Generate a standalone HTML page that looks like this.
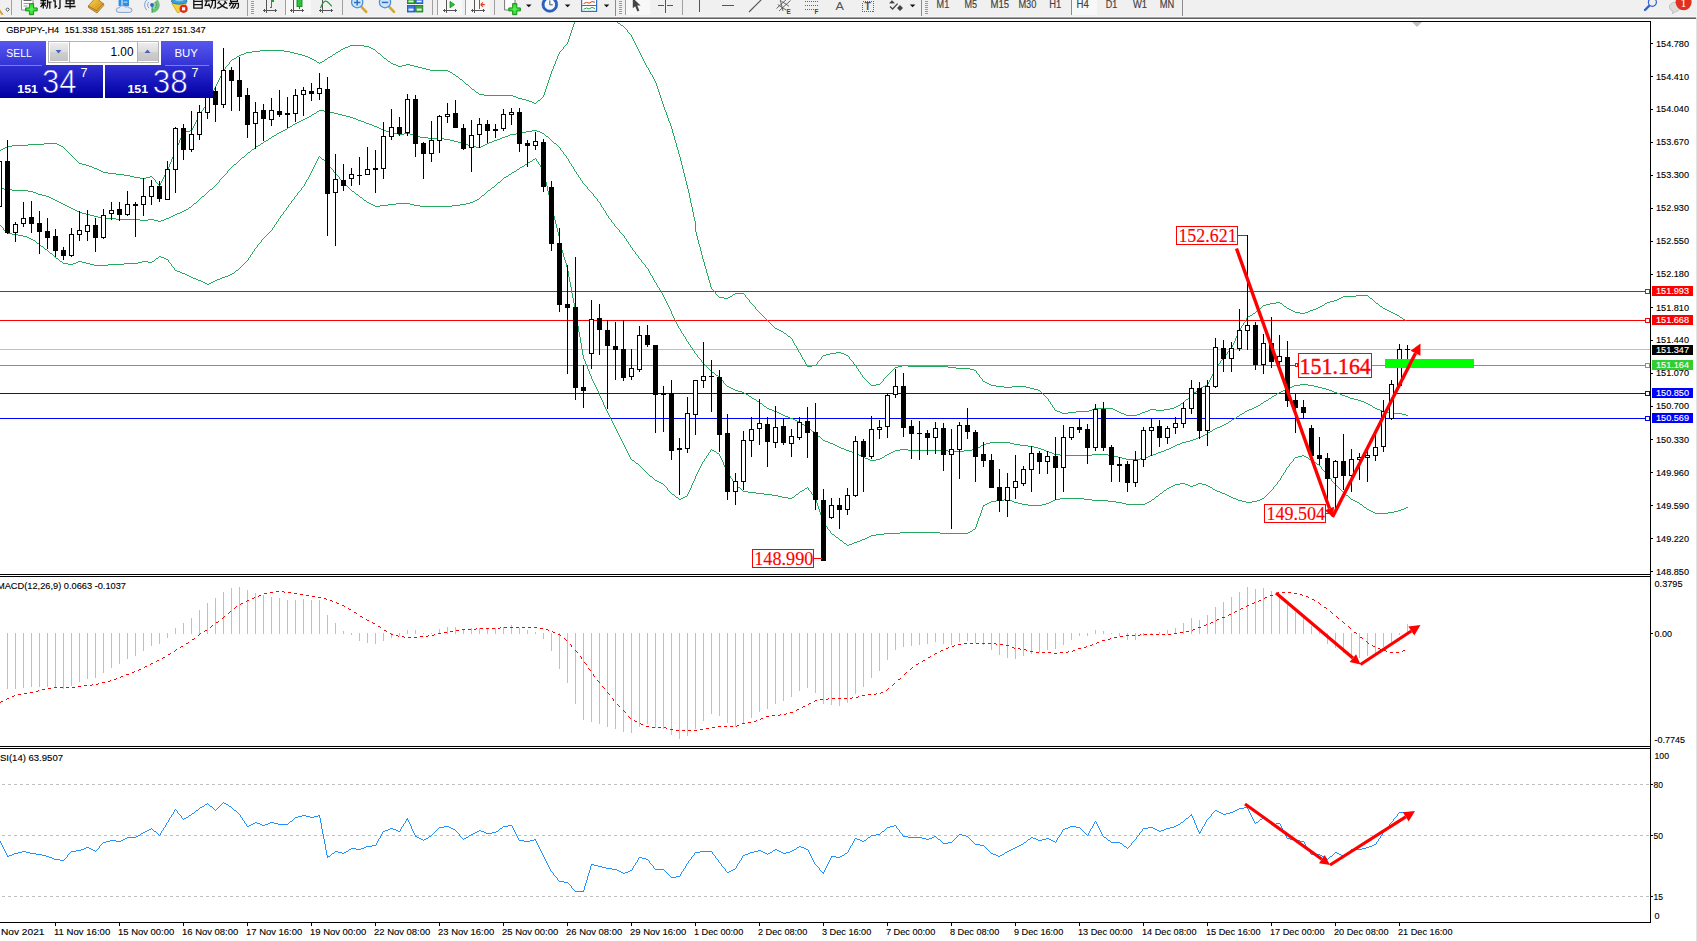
<!DOCTYPE html>
<html><head><meta charset="utf-8"><title>GBPJPY H4</title>
<style>
html,body{margin:0;padding:0;background:#fff;overflow:hidden;font-family:"Liberation Sans",sans-serif;}
svg{display:block;position:absolute;left:0;top:0;}
text{white-space:pre;}
</style></head><body>
<svg width="1697" height="941" viewBox="0 0 1697 941">
<rect x="0" y="0" width="1697" height="941" fill="#ffffff"/>
<g shape-rendering="crispEdges">
<rect x="0" y="0" width="1697" height="16" fill="#f0f0f0"/>
<rect x="0" y="16" width="1697" height="1" fill="#f8f8f8"/>
<rect x="0" y="17" width="1696" height="1" fill="#a0a0a0"/>
<rect x="0" y="18" width="1696" height="1" fill="#626262"/>
<rect x="1696" y="17" width="1" height="924" fill="#e3e3e3"/>
</g>

<clipPath id="tb"><rect x="0" y="0" width="1697" height="16"/></clipPath>
<g clip-path="url(#tb)">
<!-- pencil stub + diamond -->
<path d="M0 9.5 L3.6 14.5 L1.6 15 L0 12.5 Z" fill="#d9a028"/>
<path d="M7.6 7.8 L9.3 9.5 L7.6 11.2 L5.9 9.5 Z" fill="#fff" stroke="#333" stroke-width="0.9"/>
<rect x="11" y="0" width="1" height="15" fill="#a0a0a0" shape-rendering="crispEdges"/>
<!-- new order -->
<path d="M21.5 -2 H33 V10 H21.5 Z" fill="#fff" stroke="#8c8c8c" stroke-width="1"/>
<rect x="23.5" y="0" width="8" height="1" fill="#666"/>
<rect x="23.5" y="3" width="6" height="1" fill="#999"/>
<rect x="23.5" y="5.5" width="4" height="1" fill="#999"/>
<path d="M29.4 3.6 h4.2 v4.3 h3.6 v3 h-3.6 v3.8 h-4.2 v-3.8 h-3.8 v-3 h3.8 Z" fill="url(#pl)" stroke="#138a13" stroke-width="0.9"/>
<!-- 新订单 (lower part visible) -->
<g stroke="#111" stroke-width="1.3" fill="none" stroke-linecap="butt">
<path d="M40.4 0.6 H46.2 M40.4 3.2 H46.2 M43.3 0 V8.6 M43 3.6 L40.6 7.2 M43.6 3.6 L46 6.4"/>
<path d="M47.6 -1 V4.5 Q47.4 7.4 46.4 8.6 M47.6 2.2 H51.6 M49.8 2.2 V8.8"/>
<path d="M53 0.8 H55.2 V7.2 L56.8 5.8 M57.4 -0.6 H62 M60 -0.6 V7.6 Q59.8 8.6 58.2 8.3"/>
<path d="M66.2 -2 V3.6 H74 V-2 M66.2 0.8 H74 M70.1 -2 V8.8 M64.6 6.5 H75.6"/>
</g>
<!-- book -->
<defs><linearGradient id="bk" x1="0" y1="0" x2="1" y2="1"><stop offset="0" stop-color="#f7d868"/><stop offset="0.6" stop-color="#e0a826"/><stop offset="1" stop-color="#c88c18"/></linearGradient>
<radialGradient id="pl" cx="0.5" cy="0.5" r="0.6"><stop offset="0" stop-color="#5cf25c"/><stop offset="1" stop-color="#1fc81f"/></radialGradient></defs>
<path d="M88.3 6 L95.5 -2.4 L103.4 3.6 L96.8 11 Z" fill="url(#bk)" stroke="#b07a14" stroke-width="0.8"/>
<path d="M88.3 6 L96.8 11 L103.4 3.6 L103.8 5.4 L97 13 L88.6 7.6 Z" fill="#f3e3a4" stroke="#9a6610" stroke-width="0.8"/>
<path d="M88.6 7 L96.9 12 L103.6 4.6" fill="none" stroke="#b98218" stroke-width="0.7"/>
<!-- cloud / vps -->
<rect x="118.6" y="-2" width="10.4" height="8" fill="#2b8fe6"/>
<rect x="121.5" y="-1" width="1" height="7" fill="#fff"/>
<rect x="123.5" y="1.6" width="4" height="1" fill="#cfe6fb"/>
<path d="M119 12.4 Q115.8 12.2 116.2 9.6 Q116.6 7.6 119.2 7.8 Q120 5.2 123 5.6 Q125 5.8 125.6 7.2 Q128 5.8 129.6 8 Q132.2 8 132 10.4 Q131.8 12.4 129.4 12.4 Z" fill="#e4ebf6" stroke="#7d97c4" stroke-width="0.9"/>
<!-- signal -->
<path d="M152 5 L152 12.6 A7.6 7.6 0 0 0 157.4 -0.4 Z" fill="#58b868" opacity="0.85"/>
<path d="M152 5 L152 9.6 A4.6 4.6 0 0 0 155.3 1.8 Z" fill="#9bd3a3"/>
<g fill="none" stroke="#6f93d8" stroke-width="0.9">
<path d="M148.9 1.9 A4.4 4.4 0 0 0 148.9 8.1"/>
<path d="M146.8 -0.2 A7.4 7.4 0 0 0 146.8 10.2"/>
<path d="M155.1 1.9 A4.4 4.4 0 0 1 155.1 8.1" stroke="#4f9a5e"/>
</g>
<rect x="151.5" y="5" width="1.2" height="7.6" fill="#2da64a"/>
<circle cx="152" cy="4.9" r="1.9" fill="#2f62d6"/>
<!-- auto trading -->
<path d="M171.8 3.4 L186.6 3.4 L179.2 12.6 L177.4 12.6 Z" fill="#f2d33c" stroke="#c9a21a" stroke-width="0.8"/>
<ellipse cx="179.2" cy="1.2" rx="7.8" ry="3" fill="#3aa0dc" stroke="#1d6fb0" stroke-width="0.8"/>
<ellipse cx="179.4" cy="-0.6" rx="4.6" ry="1.8" fill="#8ed0f2"/>
<circle cx="183.6" cy="8.8" r="4.1" fill="#de2a1c"/>
<rect x="182" y="7.2" width="3.2" height="3.2" fill="#fff"/>
<!-- 自动交易 -->
<g stroke="#111" stroke-width="1.3" fill="none">
<path d="M193.8 -2 V8.2 H202.2 V-2 M193.8 1.3 H202.2 M193.8 4.6 H202.2"/>
<path d="M204.6 0.8 H209.8 M207 1 L205.2 5.6 L209 5.2 M208.6 3.6 L209.8 6.8 M210.4 0.4 H215.4 V6.4 Q215.2 8.4 213.4 8 M212.8 -2 Q212.8 5 210.2 8.4"/>
<path d="M216.6 -0.4 H228 M219.6 1 L217.6 3.6 M224.6 1 L226.8 3.6 M225.2 2.6 Q222.6 7 217 8.4 M219.4 2.8 Q222.4 7 227.8 8.4"/>
<path d="M230.6 -3 V1.4 H237.4 V-3 M230.6 -0.8 H237.4 M229 3.4 H238.4 V6.8 Q238.2 8.6 236.4 8.2 M231.6 1.6 Q231.2 4 229.2 6 M233.6 3.6 Q233 6.4 230.6 8.4 M236 3.6 Q235.4 6.6 233 8.6"/>
</g>
<rect x="247" y="0" width="1" height="17" fill="#a0a0a0" shape-rendering="crispEdges"/>
<g fill="#9a9a9a" shape-rendering="crispEdges">
<rect x="251" y="1" width="3" height="1"/><rect x="251" y="3" width="3" height="1"/><rect x="251" y="5" width="3" height="1"/><rect x="251" y="7" width="3" height="1"/><rect x="251" y="9" width="3" height="1"/><rect x="251" y="11" width="3" height="1"/><rect x="251" y="13" width="3" height="1"/>
</g>
</g>
<g clip-path="url(#tb)">
<!-- bar chart icon -->
<g shape-rendering="crispEdges" fill="#555">
<rect x="266" y="-2" width="1" height="14.5"/><rect x="263" y="10" width="14" height="1"/>
<rect x="264" y="9" width="1" height="3"/><rect x="275" y="9" width="1" height="3"/>
</g>
<path d="M269.5 7.5 H271.5 V1 H273.5 M271.5 -2 V7.5" stroke="#1f9a3a" stroke-width="1.2" fill="none" shape-rendering="crispEdges"/>
<rect x="285" y="0" width="1" height="15" fill="#a0a0a0" shape-rendering="crispEdges"/>
<!-- candle icon (pressed) -->
<rect x="286" y="0" width="25" height="15" fill="#f8f8f8"/>
<g shape-rendering="crispEdges" fill="#555">
<rect x="293" y="-2" width="1" height="14.5"/><rect x="290" y="10" width="14" height="1"/>
<rect x="291" y="9" width="1" height="3"/><rect x="302" y="9" width="1" height="3"/>
</g>
<rect x="297" y="-2" width="5" height="8.6" fill="#2cc23c" stroke="#148a24" stroke-width="0.9"/>
<rect x="299" y="6.6" width="1" height="2.4" fill="#148a24"/>
<!-- line chart icon -->
<g shape-rendering="crispEdges" fill="#555">
<rect x="322" y="-2" width="1" height="14.5"/><rect x="319" y="10" width="14" height="1"/>
<rect x="320" y="9" width="1" height="3"/><rect x="331" y="9" width="1" height="3"/>
</g>
<path d="M320.5 8 Q324 -1 327 1.6 Q329.6 3.6 331.8 6.4" stroke="#1f9a3a" stroke-width="1.2" fill="none"/>
<rect x="342" y="0" width="1" height="15" fill="#a0a0a0" shape-rendering="crispEdges"/>
<!-- zoom in -->
<path d="M361 6.4 L366.2 11.8" stroke="#d3a92b" stroke-width="2.6" stroke-linecap="round"/>
<circle cx="357.2" cy="2.2" r="5.6" fill="#cfe6fa" stroke="#4d8fd6" stroke-width="1.3"/>
<path d="M354 2.4 H360.4 M357.2 -1 V5.6" stroke="#2a6fc4" stroke-width="1.5"/>
<!-- zoom out -->
<path d="M388.8 6.4 L394 11.8" stroke="#d3a92b" stroke-width="2.6" stroke-linecap="round"/>
<circle cx="385" cy="2.2" r="5.6" fill="#cfe6fa" stroke="#4d8fd6" stroke-width="1.3"/>
<path d="M381.8 2.4 H388.2" stroke="#2a6fc4" stroke-width="1.5"/>
<!-- tile windows -->
<rect x="407.4" y="-2" width="7.2" height="5.6" fill="#3aa83a" stroke="#1d7a1d" stroke-width="0.8"/>
<rect x="415.6" y="-2" width="7.2" height="5.6" fill="#3b78e0" stroke="#1d4fae" stroke-width="0.8"/>
<rect x="407.4" y="5.4" width="7.2" height="6.6" fill="#3b78e0" stroke="#1d4fae" stroke-width="0.8"/>
<rect x="415.6" y="5.4" width="7.2" height="6.6" fill="#3aa83a" stroke="#1d7a1d" stroke-width="0.8"/>
<g fill="#eef4ff"><rect x="408.6" y="0.6" width="4.8" height="1.6"/><rect x="416.8" y="0.6" width="4.8" height="1.6"/><rect x="408.6" y="8.6" width="4.8" height="2"/><rect x="416.8" y="8.6" width="4.8" height="2"/></g>
<rect x="432" y="0" width="1" height="15" fill="#a0a0a0" shape-rendering="crispEdges"/>
<!-- autoscroll (pressed) -->
<rect x="437" y="0" width="25" height="15" fill="#f8f8f8"/>
<rect x="437" y="0" width="1" height="15" fill="#a0a0a0" shape-rendering="crispEdges"/>
<g shape-rendering="crispEdges" fill="#555">
<rect x="446" y="-2" width="1" height="14.5"/><rect x="443" y="10" width="14" height="1"/>
<rect x="444" y="9" width="1" height="3"/><rect x="455" y="9" width="1" height="3"/>
</g>
<path d="M450 1.4 L454.6 4.6 L450 7.8 Z" fill="#2cc23c" stroke="#148a24" stroke-width="0.8"/>
<!-- chart shift (pressed) -->
<rect x="465" y="0" width="25" height="15" fill="#f8f8f8"/>
<rect x="465" y="0" width="1" height="15" fill="#a0a0a0" shape-rendering="crispEdges"/>
<g shape-rendering="crispEdges" fill="#555">
<rect x="474" y="-2" width="1" height="14.5"/><rect x="471" y="10" width="14" height="1"/>
<rect x="472" y="9" width="1" height="3"/><rect x="483" y="9" width="1" height="3"/>
</g>
<rect x="479" y="-2" width="1" height="10.5" fill="#2a6fc4" shape-rendering="crispEdges"/>
<path d="M480.6 4.6 L484.8 4.6 M480.6 4.6 L483 2.4 M480.6 4.6 L483 6.8" stroke="#d8401c" stroke-width="1.1" fill="none"/>
<rect x="494" y="0" width="1" height="15" fill="#a0a0a0" shape-rendering="crispEdges"/>
</g>
<g clip-path="url(#tb)">
<!-- indicators -->
<path d="M504.6 -2 H515 V10 H504.6 Z" fill="#fff" stroke="#777" stroke-width="1"/>
<path d="M512.6 3.6 h4.2 v4.3 h3.6 v3 h-3.6 v3.8 h-4.2 v-3.8 h-3.8 v-3 h3.8 Z" fill="url(#pl)" stroke="#138a13" stroke-width="0.9"/>
<path d="M526 4.4 H531.6 L528.8 7.2 Z" fill="#111"/>
<!-- clock -->
<circle cx="549.8" cy="4.4" r="6.6" fill="#f4f8ff" stroke="#2a62c8" stroke-width="2.6"/><circle cx="549.8" cy="4.4" r="7.9" fill="none" stroke="#1b3f96" stroke-width="0.5"/>
<path d="M549.8 0.4 V4.8 H552.8" stroke="#555" stroke-width="1" fill="none"/>
<path d="M564.8 4.4 H570.4 L567.6 7.2 Z" fill="#111"/>
<!-- templates -->
<rect x="581.6" y="-2" width="15" height="13.4" fill="#fff" stroke="#2f6fd0" stroke-width="1.2"/>
<rect x="582" y="5" width="14" height="1" fill="#2f6fd0"/>
<path d="M583.6 3.6 L586.6 2.4 L589 3.2 L592 1.6 L595 2.2" stroke="#d8401c" stroke-width="1" fill="none"/>
<path d="M583.6 9.2 L586.6 8 L589 9 L592 7.4 L595 8.6" stroke="#2da64a" stroke-width="1" fill="none"/>
<path d="M603.8 4.4 H609.4 L606.6 7.2 Z" fill="#111"/>
<rect x="615" y="0" width="1" height="17" fill="#8c8c8c" shape-rendering="crispEdges"/>
<g fill="#9a9a9a" shape-rendering="crispEdges">
<rect x="619" y="1" width="3" height="1"/><rect x="619" y="3" width="3" height="1"/><rect x="619" y="5" width="3" height="1"/><rect x="619" y="7" width="3" height="1"/><rect x="619" y="9" width="3" height="1"/><rect x="619" y="11" width="3" height="1"/><rect x="619" y="13" width="3" height="1"/>
</g>
<!-- cursor (pressed) -->
<rect x="626" y="0" width="24" height="15" fill="#f8f8f8"/>
<rect x="625" y="0" width="1" height="15" fill="#a0a0a0" shape-rendering="crispEdges"/>
<path d="M632.8 -2 L632.8 8.2 L635.2 6.2 L637.4 11.4 L639.4 10.6 L637.2 5.6 L640.6 5.6 Z" fill="#444"/>
<!-- crosshair -->
<g shape-rendering="crispEdges" fill="#555"><rect x="665" y="-2" width="1" height="15"/><rect x="658" y="5" width="6" height="1"/><rect x="667" y="5" width="6" height="1"/></g>
<rect x="682" y="0" width="1" height="15" fill="#a0a0a0" shape-rendering="crispEdges"/>
<rect x="699" y="-2" width="1" height="14" fill="#555" shape-rendering="crispEdges"/>
<rect x="722" y="5" width="12" height="1" fill="#555" shape-rendering="crispEdges"/>
<path d="M749 12 L762 -1" stroke="#555" stroke-width="1.1"/>
<!-- channel E -->
<path d="M776.5 8.5 L788 -2 M779 11 L790.5 0.5 M777.8 4.6 L786.4 10.2 M781.4 1.2 L789 6.2 M780 -1 L783 11" stroke="#555" stroke-width="0.9" fill="none"/>
<text x="786.6" y="14" font-family="'Liberation Sans', sans-serif" font-size="6.4" font-weight="bold" fill="#444">E</text>
<!-- fibo F -->
<g fill="#666" shape-rendering="crispEdges">
<rect x="805" y="1" width="1" height="1"/><rect x="807" y="1" width="1" height="1"/><rect x="809" y="1" width="1" height="1"/><rect x="811" y="1" width="1" height="1"/><rect x="813" y="1" width="1" height="1"/><rect x="815" y="1" width="1" height="1"/><rect x="817" y="1" width="1" height="1"/>
<rect x="805" y="5" width="1" height="1"/><rect x="807" y="5" width="1" height="1"/><rect x="809" y="5" width="1" height="1"/><rect x="811" y="5" width="1" height="1"/><rect x="813" y="5" width="1" height="1"/><rect x="815" y="5" width="1" height="1"/><rect x="817" y="5" width="1" height="1"/>
<rect x="805" y="9" width="1" height="1"/><rect x="807" y="9" width="1" height="1"/><rect x="809" y="9" width="1" height="1"/><rect x="811" y="9" width="1" height="1"/><rect x="813" y="9" width="1" height="1"/>
</g>
<text x="814.4" y="14" font-family="'Liberation Sans', sans-serif" font-size="6.4" font-weight="bold" fill="#444">F</text>
<!-- A -->
<text x="835.4" y="10" font-family="'Liberation Sans', sans-serif" font-size="11.6" fill="#555" textLength="8.4" lengthAdjust="spacingAndGlyphs">A</text>
<!-- T label -->
<rect x="862.5" y="1.5" width="11" height="10" fill="none" stroke="#666" stroke-width="1" stroke-dasharray="1 1" shape-rendering="crispEdges"/>
<text x="864.4" y="10" font-family="'Liberation Sans', sans-serif" font-size="10.4" font-weight="bold" fill="#555">T</text>
<!-- arrows -->
<path d="M889 3.2 L892 0.2 L895 3.2 L892 3.6 Z M897 8 L900 5 L903 8 L900 11 Z" fill="#444"/>
<path d="M890 6.6 L892.6 9 L897.6 3.6" stroke="#444" stroke-width="1.3" fill="none"/>
<path d="M909.8 4.4 H915.4 L912.6 7.2 Z" fill="#111"/>
<rect x="921" y="0" width="1" height="17" fill="#8c8c8c" shape-rendering="crispEdges"/>
<g fill="#9a9a9a" shape-rendering="crispEdges">
<rect x="925" y="1" width="3" height="1"/><rect x="925" y="3" width="3" height="1"/><rect x="925" y="5" width="3" height="1"/><rect x="925" y="7" width="3" height="1"/><rect x="925" y="9" width="3" height="1"/><rect x="925" y="11" width="3" height="1"/><rect x="925" y="13" width="3" height="1"/>
</g>
<!-- timeframes -->
<rect x="1072" y="0" width="25" height="15" fill="#f8f8f8"/>
<rect x="1071" y="0" width="1" height="15" fill="#8c8c8c" shape-rendering="crispEdges"/>
<g font-family="'Liberation Sans', sans-serif" font-size="10" fill="#404040" stroke="#404040" stroke-width="0.15">
<text x="936.6" y="8.4" textLength="12.6" lengthAdjust="spacingAndGlyphs">M1</text>
<text x="964.5" y="8.4" textLength="12.6" lengthAdjust="spacingAndGlyphs">M5</text>
<text x="990.5" y="8.4" textLength="18.6" lengthAdjust="spacingAndGlyphs">M15</text>
<text x="1018.4" y="8.4" textLength="18" lengthAdjust="spacingAndGlyphs">M30</text>
<text x="1049.3" y="8.4" textLength="12" lengthAdjust="spacingAndGlyphs">H1</text>
<text x="1076.6" y="8.4" textLength="12.3" lengthAdjust="spacingAndGlyphs">H4</text>
<text x="1105.7" y="8.4" textLength="11.5" lengthAdjust="spacingAndGlyphs">D1</text>
<text x="1133" y="8.4" textLength="14" lengthAdjust="spacingAndGlyphs">W1</text>
<text x="1159.8" y="8.4" textLength="14.5" lengthAdjust="spacingAndGlyphs">MN</text>
</g>
<rect x="1182" y="0" width="1" height="17" fill="#8c8c8c" shape-rendering="crispEdges"/>
<!-- search -->
<path d="M1649.6 5.4 L1645 10" stroke="#2f62d6" stroke-width="2.4" stroke-linecap="round"/>
<circle cx="1652.4" cy="2.3" r="4" fill="#f0f0f0" stroke="#2f62d6" stroke-width="1.2"/>
<!-- chat -->
<path d="M1669.4 7 A5.6 4.6 0 1 1 1676 11.4 L1672.4 13.6 L1673 11.2 A5.6 4.6 0 0 1 1669.4 7 Z" fill="#dcdcdc" stroke="#b8b8b8" stroke-width="0.8"/>
<circle cx="1683.6" cy="2.3" r="8" fill="#e2301e"/>
<text x="1683.6" y="6.6" font-family="'Liberation Serif', serif" font-size="12" fill="#fff" text-anchor="middle">1</text>
</g>

<g shape-rendering="crispEdges">
<rect x="0" y="291" width="1650" height="1" fill="#ff0000" />
<rect x="0" y="320" width="1650" height="1" fill="#ff0000" />
<rect x="0" y="349" width="1650" height="1" fill="#c0c0c0" />
<rect x="0" y="365" width="1650" height="1" fill="#32cd32" />
<rect x="0" y="393" width="1650" height="1" fill="#0000ff" />
<rect x="0" y="418" width="1650" height="1" fill="#0000ff" />
<clipPath id="cm"><rect x="0" y="22" width="1650" height="552"/></clipPath>
<g clip-path="url(#cm)">
<path d="M0 150h1v1h-1zM1 149h2v1h-2zM3 148h2v1h-2zM5 147h2v1h-2zM7 146h5v1h-5zM12 145h16v1h-16zM28 144h16v1h-16zM44 143h13v1h-13zM57 144h2v1h-2zM59 145h2v1h-2zM61 146h2v1h-2zM63 147h1v1h-1zM64 148h1v1h-1zM65 149h1v1h-1zM66 150h1v1h-1zM67 151h1v1h-1zM68 152h1v1h-1zM69 153h1v1h-1zM70 154h1v1h-1zM71 155h1v1h-1zM72 156h1v1h-1zM73 157h1v1h-1zM74 158h1v1h-1zM75 159h1v1h-1zM76 160h1v1h-1zM77 161h1v1h-1zM78 162h1v1h-1zM79 163h3v1h-3zM82 164h4v1h-4zM86 165h3v1h-3zM89 166h3v1h-3zM92 167h2v1h-2zM94 168h3v1h-3zM97 169h2v1h-2zM99 170h2v1h-2zM101 171h2v1h-2zM103 172h5v1h-5zM108 173h8v1h-8zM116 174h8v1h-8zM124 175h6v1h-6zM130 176h4v1h-4zM134 177h6v1h-6zM140 178h6v1h-6zM146 177h4v1h-4zM150 176h2v1h-2zM152 177h1v1h-1zM153 178h1v1h-1zM154 179h1v1h-1zM155 180h1v2h-1zM156 182h1v1h-1zM157 183h1v1h-1zM158 184h1v1h-1zM159 185h1v1h-1zM160 183h1v2h-1zM161 181h1v2h-1zM162 179h1v2h-1zM163 177h1v2h-1zM164 175h1v2h-1zM165 173h1v2h-1zM166 171h1v2h-1zM167 169h1v2h-1zM168 167h1v2h-1zM169 164h1v3h-1zM170 162h1v2h-1zM171 159h1v3h-1zM172 157h1v2h-1zM173 154h1v3h-1zM174 152h1v2h-1zM175 149h1v3h-1zM176 147h1v2h-1zM177 145h1v2h-1zM178 143h1v2h-1zM179 140h1v3h-1zM180 138h1v2h-1zM181 136h1v2h-1zM182 134h1v2h-1zM183 132h3v1h-3zM183 133h1v1h-1zM186 131h4v1h-4zM190 130h2v1h-2zM192 128h1v2h-1zM193 126h1v2h-1zM194 124h1v2h-1zM195 122h1v2h-1zM196 120h1v2h-1zM197 118h1v2h-1zM198 116h1v2h-1zM199 115h1v1h-1zM200 113h1v2h-1zM201 111h1v2h-1zM202 110h1v1h-1zM203 108h1v2h-1zM204 107h1v1h-1zM205 105h1v2h-1zM206 103h1v2h-1zM207 102h1v1h-1zM208 100h1v2h-1zM209 98h1v2h-1zM210 96h1v2h-1zM211 94h1v2h-1zM212 92h1v2h-1zM213 90h1v2h-1zM214 88h1v2h-1zM215 86h1v2h-1zM216 84h1v2h-1zM217 82h1v2h-1zM218 80h1v2h-1zM219 78h1v2h-1zM220 76h1v2h-1zM221 74h1v2h-1zM222 72h1v2h-1zM223 70h1v2h-1zM224 69h1v1h-1zM225 67h1v2h-1zM226 66h1v1h-1zM227 65h1v1h-1zM228 64h1v1h-1zM229 62h1v2h-1zM230 61h1v1h-1zM231 60h1v1h-1zM232 59h2v1h-2zM234 58h2v1h-2zM236 57h1v1h-1zM237 56h2v1h-2zM239 55h2v1h-2zM241 54h3v1h-3zM244 53h2v1h-2zM246 52h6v1h-6zM252 51h8v1h-8zM260 50h24v1h-24zM284 51h6v1h-6zM290 52h4v1h-4zM294 53h4v1h-4zM298 54h4v1h-4zM302 55h3v1h-3zM305 56h3v1h-3zM308 57h2v1h-2zM310 58h2v1h-2zM312 59h2v1h-2zM314 60h2v1h-2zM316 61h1v1h-1zM317 62h2v1h-2zM319 63h1v1h-1zM320 62h2v1h-2zM322 61h2v1h-2zM324 60h1v1h-1zM325 59h2v1h-2zM327 58h1v1h-1zM328 57h2v1h-2zM330 56h2v1h-2zM332 55h1v1h-1zM333 54h2v1h-2zM335 53h1v1h-1zM336 52h2v1h-2zM338 51h2v1h-2zM340 50h1v1h-1zM341 49h2v1h-2zM343 48h2v1h-2zM345 47h3v1h-3zM348 46h2v1h-2zM350 45h14v1h-14zM364 46h5v1h-5zM369 47h2v1h-2zM371 48h2v1h-2zM373 49h2v1h-2zM375 50h1v1h-1zM376 51h1v1h-1zM377 52h1v1h-1zM378 53h2v1h-2zM380 54h1v1h-1zM381 55h1v1h-1zM382 56h1v1h-1zM383 57h1v1h-1zM384 58h2v1h-2zM386 59h1v1h-1zM387 60h1v1h-1zM388 61h2v1h-2zM390 62h1v1h-1zM391 63h2v1h-2zM393 64h3v1h-3zM396 65h2v1h-2zM398 66h4v1h-4zM402 65h4v1h-4zM406 64h4v1h-4zM410 65h4v1h-4zM414 66h4v1h-4zM418 67h4v1h-4zM422 68h4v1h-4zM426 69h4v1h-4zM430 70h18v1h-18zM448 71h2v1h-2zM450 72h2v1h-2zM452 73h1v1h-1zM453 74h2v1h-2zM455 75h1v1h-1zM456 76h2v1h-2zM458 77h1v1h-1zM459 78h1v1h-1zM460 79h2v1h-2zM462 80h1v1h-1zM463 81h1v1h-1zM464 82h1v1h-1zM465 83h1v1h-1zM466 84h2v1h-2zM468 85h1v1h-1zM469 86h1v1h-1zM470 87h1v1h-1zM471 88h1v1h-1zM472 89h2v1h-2zM474 90h1v1h-1zM475 91h1v1h-1zM476 92h2v1h-2zM478 93h1v1h-1zM479 94h5v1h-5zM484 95h29v1h-29zM513 96h3v1h-3zM516 97h2v1h-2zM518 98h4v1h-4zM522 99h4v1h-4zM526 100h3v1h-3zM529 101h3v1h-3zM532 102h2v1h-2zM534 103h2v1h-2zM536 102h1v1h-1zM537 101h1v1h-1zM538 100h2v1h-2zM540 99h1v1h-1zM541 98h1v1h-1zM542 97h1v1h-1zM543 95h1v2h-1zM544 92h1v3h-1zM545 89h1v3h-1zM546 86h1v3h-1zM547 83h1v3h-1zM548 80h1v3h-1zM549 77h1v3h-1zM550 74h1v3h-1zM551 71h1v3h-1zM552 69h1v2h-1zM553 66h1v3h-1zM554 64h1v2h-1zM555 61h1v3h-1zM556 59h1v2h-1zM557 56h1v3h-1zM558 54h1v2h-1zM559 52h1v2h-1zM560 51h1v1h-1zM561 50h1v1h-1zM562 49h1v1h-1zM563 47h1v2h-1zM564 46h1v1h-1zM565 45h1v1h-1zM566 44h1v1h-1zM567 42h1v2h-1zM568 39h1v3h-1zM569 36h1v3h-1zM570 33h1v3h-1zM571 30h1v3h-1zM572 27h1v3h-1zM573 24h1v3h-1zM574 22h1v2h-1z" fill="#27a85f"/>
<path d="M617 22h1v1h-1zM618 23h2v1h-2zM620 24h1v1h-1zM621 25h2v1h-2zM623 26h1v1h-1zM624 27h1v1h-1zM625 28h1v1h-1zM626 29h1v1h-1zM627 30h1v2h-1zM628 32h1v1h-1zM629 33h1v1h-1zM630 34h1v1h-1zM631 35h1v2h-1zM632 37h1v2h-1zM633 39h1v2h-1zM634 41h1v2h-1zM635 43h1v2h-1zM636 45h1v2h-1zM637 47h1v2h-1zM638 49h1v2h-1zM639 51h1v2h-1zM640 53h1v2h-1zM641 55h1v2h-1zM642 57h1v2h-1zM643 59h1v2h-1zM644 61h1v2h-1zM645 63h1v2h-1zM646 65h1v2h-1zM647 67h1v1h-1zM648 68h1v2h-1zM649 70h1v2h-1zM650 72h1v2h-1zM651 74h1v1h-1zM652 75h1v2h-1zM653 77h1v2h-1zM654 79h1v2h-1zM655 81h1v2h-1zM656 83h1v3h-1zM657 86h1v3h-1zM658 89h1v3h-1zM659 92h1v3h-1zM660 95h1v3h-1zM661 98h1v3h-1zM662 101h1v3h-1zM663 104h1v3h-1zM664 107h1v3h-1zM665 110h1v2h-1zM666 112h1v3h-1zM667 115h1v3h-1zM668 118h1v3h-1zM669 121h1v2h-1zM670 123h1v3h-1zM671 126h1v3h-1zM672 129h1v4h-1zM673 133h1v3h-1zM674 136h1v4h-1zM675 140h1v3h-1zM676 143h1v4h-1zM677 147h1v3h-1zM678 150h1v4h-1zM679 154h1v3h-1zM680 157h1v4h-1zM681 161h1v4h-1zM682 165h1v4h-1zM683 169h1v4h-1zM684 173h1v4h-1zM685 177h1v4h-1zM686 181h1v4h-1zM687 185h1v4h-1zM688 189h1v4h-1zM689 193h1v5h-1zM690 198h1v5h-1zM691 203h1v4h-1zM692 207h1v5h-1zM693 212h1v5h-1zM694 217h1v4h-1zM695 221h1v11h-1zM696 232h1v4h-1zM697 236h1v4h-1zM698 240h1v4h-1zM699 244h1v3h-1zM700 247h1v4h-1zM701 251h1v4h-1zM702 255h1v4h-1zM703 259h1v3h-1zM704 262h1v4h-1zM705 266h1v3h-1zM706 269h1v4h-1zM707 273h1v3h-1zM708 276h1v4h-1zM709 280h1v3h-1zM710 283h1v4h-1zM711 287h1v2h-1zM712 289h1v1h-1zM713 290h1v1h-1zM714 291h1v1h-1zM715 292h1v2h-1zM716 294h1v1h-1zM717 295h1v1h-1zM718 296h1v1h-1zM719 297h5v1h-5zM724 298h4v1h-4zM728 297h2v1h-2zM730 296h2v1h-2zM732 295h1v1h-1zM733 294h2v1h-2zM735 293h9v1h-9zM744 294h1v1h-1zM745 295h1v2h-1zM746 297h1v1h-1zM747 298h1v1h-1zM748 299h1v1h-1zM749 300h1v2h-1zM750 302h1v1h-1zM751 303h1v1h-1zM752 304h1v1h-1zM753 305h1v1h-1zM754 306h1v1h-1zM755 307h1v2h-1zM756 309h1v1h-1zM757 310h1v1h-1zM758 311h1v1h-1zM759 312h1v1h-1zM760 313h1v1h-1zM761 314h1v1h-1zM762 315h1v1h-1zM763 316h1v1h-1zM764 317h1v1h-1zM765 318h1v1h-1zM766 319h1v1h-1zM767 320h1v1h-1zM768 321h1v1h-1zM769 322h1v1h-1zM770 323h1v1h-1zM771 324h1v1h-1zM772 325h1v1h-1zM773 326h1v1h-1zM774 327h1v1h-1zM775 328h2v1h-2zM777 329h2v1h-2zM779 330h2v1h-2zM781 331h2v1h-2zM783 332h1v1h-1zM784 333h2v1h-2zM786 334h1v1h-1zM787 335h1v1h-1zM788 336h2v1h-2zM790 337h1v1h-1zM791 338h1v1h-1zM792 339h1v2h-1zM793 341h1v2h-1zM794 343h1v2h-1zM795 345h1v1h-1zM796 346h1v2h-1zM797 348h1v2h-1zM798 350h1v2h-1zM799 352h1v1h-1zM800 353h1v2h-1zM801 355h1v2h-1zM802 357h1v2h-1zM803 359h1v1h-1zM804 360h1v2h-1zM805 362h1v2h-1zM806 364h1v2h-1zM807 366h5v1h-5zM812 365h4v1h-4zM816 364h1v1h-1zM817 362h1v2h-1zM818 361h1v1h-1zM819 360h1v1h-1zM820 359h1v1h-1zM821 357h1v2h-1zM822 356h1v1h-1zM823 355h3v1h-3zM826 354h4v1h-4zM830 353h6v1h-6zM836 352h5v1h-5zM841 353h3v1h-3zM844 354h2v1h-2zM846 355h2v1h-2zM848 356h1v1h-1zM849 357h1v2h-1zM850 359h1v1h-1zM851 360h1v1h-1zM852 361h1v1h-1zM853 362h1v2h-1zM854 364h1v1h-1zM855 365h1v1h-1zM856 366h1v2h-1zM857 368h1v1h-1zM858 369h1v2h-1zM859 371h1v1h-1zM860 372h1v2h-1zM861 374h1v1h-1zM862 375h1v2h-1zM863 377h1v1h-1zM864 378h1v1h-1zM865 379h1v1h-1zM866 380h1v1h-1zM867 381h1v1h-1zM868 382h1v1h-1zM869 383h1v1h-1zM870 384h1v1h-1zM871 385h5v1h-5zM876 384h4v1h-4zM880 383h1v1h-1zM881 382h1v1h-1zM882 381h1v1h-1zM883 379h1v2h-1zM884 378h1v1h-1zM885 377h1v1h-1zM886 376h1v1h-1zM887 375h1v1h-1zM888 374h1v1h-1zM889 373h1v1h-1zM890 372h1v1h-1zM891 371h1v1h-1zM892 370h1v1h-1zM893 369h1v1h-1zM894 368h1v1h-1zM895 367h3v1h-3zM898 366h4v1h-4zM902 365h6v1h-6zM908 366h40v1h-40zM948 367h8v1h-8zM956 368h14v1h-14zM970 369h4v1h-4zM974 370h2v1h-2zM976 371h1v2h-1zM977 373h1v1h-1zM978 374h1v1h-1zM979 375h1v2h-1zM980 377h1v1h-1zM981 378h1v1h-1zM982 379h1v2h-1zM983 381h2v1h-2zM985 382h2v1h-2zM987 383h2v1h-2zM989 384h2v1h-2zM991 385h5v1h-5zM996 386h8v1h-8zM1004 387h8v1h-8zM1012 386h14v1h-14zM1026 387h4v1h-4zM1030 388h4v1h-4zM1034 389h4v1h-4zM1038 390h2v1h-2zM1040 391h1v1h-1zM1041 392h1v1h-1zM1042 393h1v1h-1zM1043 394h1v1h-1zM1044 395h1v1h-1zM1045 396h1v1h-1zM1046 397h1v1h-1zM1047 398h1v1h-1zM1048 399h1v2h-1zM1049 401h1v1h-1zM1050 402h1v2h-1zM1051 404h1v1h-1zM1052 405h1v2h-1zM1053 407h1v1h-1zM1054 408h1v2h-1zM1055 410h2v1h-2zM1057 411h3v1h-3zM1060 412h2v1h-2zM1062 413h6v1h-6zM1068 412h8v1h-8zM1076 411h13v1h-13zM1089 410h3v1h-3zM1092 409h2v1h-2zM1094 408h19v1h-19zM1113 409h2v1h-2zM1115 410h2v1h-2zM1117 411h2v1h-2zM1119 412h2v1h-2zM1121 413h3v1h-3zM1124 414h2v1h-2zM1126 415h11v1h-11zM1137 414h3v1h-3zM1140 413h2v1h-2zM1142 412h3v1h-3zM1145 411h3v1h-3zM1148 410h2v1h-2zM1150 409h6v1h-6zM1156 410h8v1h-8zM1164 409h6v1h-6zM1170 408h4v1h-4zM1174 407h2v1h-2zM1176 406h2v1h-2zM1178 405h2v1h-2zM1180 404h1v1h-1zM1181 403h2v1h-2zM1183 402h1v1h-1zM1184 401h1v1h-1zM1185 400h1v1h-1zM1186 399h2v1h-2zM1188 398h1v1h-1zM1189 397h1v1h-1zM1190 396h1v1h-1zM1191 395h1v1h-1zM1192 394h1v1h-1zM1193 393h1v1h-1zM1194 392h2v1h-2zM1196 391h1v1h-1zM1197 390h1v1h-1zM1198 389h1v1h-1zM1199 388h2v1h-2zM1201 387h2v1h-2zM1203 386h2v1h-2zM1205 385h2v1h-2zM1207 384h1v1h-1zM1208 382h1v2h-1zM1209 380h1v2h-1zM1210 378h1v2h-1zM1211 376h1v2h-1zM1212 374h1v2h-1zM1213 372h1v2h-1zM1214 370h1v2h-1zM1215 369h1v1h-1zM1216 367h1v2h-1zM1217 366h1v1h-1zM1218 364h1v2h-1zM1219 363h1v1h-1zM1220 361h1v2h-1zM1221 360h1v1h-1zM1222 358h1v2h-1zM1223 357h1v1h-1zM1224 356h1v1h-1zM1225 355h1v1h-1zM1226 354h1v1h-1zM1227 352h1v2h-1zM1228 351h1v1h-1zM1229 350h1v1h-1zM1230 349h1v1h-1zM1231 347h1v2h-1zM1232 345h1v2h-1zM1233 343h1v2h-1zM1234 341h1v2h-1zM1235 338h1v3h-1zM1236 336h1v2h-1zM1237 334h1v2h-1zM1238 332h1v2h-1zM1239 330h1v2h-1zM1240 328h1v2h-1zM1241 326h1v2h-1zM1242 325h1v1h-1zM1243 323h1v2h-1zM1244 322h1v1h-1zM1245 320h1v2h-1zM1246 318h1v2h-1zM1247 317h1v1h-1zM1248 316h2v1h-2zM1250 315h2v1h-2zM1252 314h1v1h-1zM1253 313h2v1h-2zM1255 312h1v1h-1zM1256 311h1v1h-1zM1257 310h1v1h-1zM1258 309h2v1h-2zM1260 308h1v1h-1zM1261 307h1v1h-1zM1262 306h1v1h-1zM1263 305h3v1h-3zM1266 304h4v1h-4zM1270 303h6v1h-6zM1276 302h4v1h-4zM1280 303h2v1h-2zM1282 304h1v1h-1zM1283 305h1v1h-1zM1284 306h2v1h-2zM1286 307h1v1h-1zM1287 308h2v1h-2zM1289 309h2v1h-2zM1291 310h2v1h-2zM1293 311h2v1h-2zM1295 312h5v1h-5zM1300 313h5v1h-5zM1305 312h3v1h-3zM1308 311h2v1h-2zM1310 310h3v1h-3zM1313 309h3v1h-3zM1316 308h2v1h-2zM1318 307h2v1h-2zM1320 306h2v1h-2zM1322 305h2v1h-2zM1324 304h1v1h-1zM1325 303h2v1h-2zM1327 302h3v1h-3zM1330 301h4v1h-4zM1334 300h3v1h-3zM1337 299h2v1h-2zM1339 298h2v1h-2zM1341 297h2v1h-2zM1343 296h13v1h-13zM1356 295h12v1h-12zM1368 296h1v1h-1zM1369 297h1v1h-1zM1370 298h2v1h-2zM1372 299h1v1h-1zM1373 300h1v1h-1zM1374 301h1v1h-1zM1375 302h1v1h-1zM1376 303h2v1h-2zM1378 304h1v1h-1zM1379 305h1v1h-1zM1380 306h2v1h-2zM1382 307h1v1h-1zM1383 308h2v1h-2zM1385 309h2v1h-2zM1387 310h2v1h-2zM1389 311h2v1h-2zM1391 312h2v1h-2zM1393 313h2v1h-2zM1395 314h2v1h-2zM1397 315h2v1h-2zM1399 316h1v1h-1zM1400 317h2v1h-2zM1402 318h1v1h-1zM1403 319h2v1h-2zM1405 320h1v1h-1z" fill="#27a85f"/>
<path d="M0 188h4v1h-4zM4 189h8v1h-8zM12 190h16v1h-16zM28 191h5v1h-5zM33 192h3v1h-3zM36 193h2v1h-2zM38 194h4v1h-4zM42 195h4v1h-4zM46 196h3v1h-3zM49 197h2v1h-2zM51 198h2v1h-2zM53 199h2v1h-2zM55 200h2v1h-2zM57 201h2v1h-2zM59 202h2v1h-2zM61 203h2v1h-2zM63 204h2v1h-2zM65 205h2v1h-2zM67 206h2v1h-2zM69 207h2v1h-2zM71 208h2v1h-2zM73 209h2v1h-2zM75 210h2v1h-2zM77 211h2v1h-2zM79 212h3v1h-3zM82 213h4v1h-4zM86 214h4v1h-4zM90 215h4v1h-4zM94 216h4v1h-4zM98 217h4v1h-4zM102 218h14v1h-14zM116 219h24v1h-24zM140 220h8v1h-8zM148 219h6v1h-6zM154 220h4v1h-4zM158 221h3v1h-3zM161 220h3v1h-3zM164 219h2v1h-2zM166 218h3v1h-3zM169 217h2v1h-2zM171 216h2v1h-2zM173 215h2v1h-2zM175 214h2v1h-2zM177 213h3v1h-3zM180 212h2v1h-2zM182 211h2v1h-2zM184 210h2v1h-2zM186 209h2v1h-2zM188 208h1v1h-1zM189 207h2v1h-2zM191 206h1v1h-1zM192 205h1v1h-1zM193 204h1v1h-1zM194 203h2v1h-2zM196 202h1v1h-1zM197 201h1v1h-1zM198 200h1v1h-1zM199 199h1v1h-1zM200 198h1v1h-1zM201 197h1v1h-1zM202 196h2v1h-2zM204 195h1v1h-1zM205 194h1v1h-1zM206 193h1v1h-1zM207 192h1v1h-1zM208 191h1v1h-1zM209 190h1v1h-1zM210 189h2v1h-2zM212 188h1v1h-1zM213 187h1v1h-1zM214 186h1v1h-1zM215 185h1v1h-1zM216 184h1v1h-1zM217 183h1v1h-1zM218 182h1v1h-1zM219 180h1v2h-1zM220 179h1v1h-1zM221 178h1v1h-1zM222 177h1v1h-1zM223 176h1v1h-1zM224 175h1v1h-1zM225 174h1v1h-1zM226 173h1v1h-1zM227 171h1v2h-1zM228 170h1v1h-1zM229 169h1v1h-1zM230 168h1v1h-1zM231 167h1v1h-1zM232 166h1v1h-1zM233 165h1v1h-1zM234 164h2v1h-2zM236 163h1v1h-1zM237 162h1v1h-1zM238 161h1v1h-1zM239 160h1v1h-1zM240 159h1v1h-1zM241 158h1v1h-1zM242 157h2v1h-2zM244 156h1v1h-1zM245 155h1v1h-1zM246 154h1v1h-1zM247 153h1v1h-1zM248 152h2v1h-2zM250 151h1v1h-1zM251 150h1v1h-1zM252 149h2v1h-2zM254 148h1v1h-1zM255 147h1v1h-1zM256 146h2v1h-2zM258 145h2v1h-2zM260 144h1v1h-1zM261 143h2v1h-2zM263 142h1v1h-1zM264 141h2v1h-2zM266 140h2v1h-2zM268 139h1v1h-1zM269 138h2v1h-2zM271 137h1v1h-1zM272 136h2v1h-2zM274 135h2v1h-2zM276 134h1v1h-1zM277 133h2v1h-2zM279 132h2v1h-2zM281 131h2v1h-2zM283 130h2v1h-2zM285 129h2v1h-2zM287 128h1v1h-1zM288 127h2v1h-2zM290 126h2v1h-2zM292 125h1v1h-1zM293 124h2v1h-2zM295 123h2v1h-2zM297 122h2v1h-2zM299 121h2v1h-2zM301 120h2v1h-2zM303 119h2v1h-2zM305 118h2v1h-2zM307 117h2v1h-2zM309 116h2v1h-2zM311 115h1v1h-1zM312 114h2v1h-2zM314 113h2v1h-2zM316 112h1v1h-1zM317 111h2v1h-2zM319 110h5v1h-5zM324 111h6v1h-6zM330 112h4v1h-4zM334 113h4v1h-4zM338 114h4v1h-4zM342 115h4v1h-4zM346 116h4v1h-4zM350 117h3v1h-3zM353 118h3v1h-3zM356 119h2v1h-2zM358 120h3v1h-3zM361 121h3v1h-3zM364 122h2v1h-2zM366 123h3v1h-3zM369 124h3v1h-3zM372 125h2v1h-2zM374 126h3v1h-3zM377 127h2v1h-2zM379 128h2v1h-2zM381 129h2v1h-2zM383 130h3v1h-3zM386 131h4v1h-4zM390 132h4v1h-4zM394 133h4v1h-4zM398 134h6v1h-6zM404 133h6v1h-6zM410 134h4v1h-4zM414 135h2v1h-2zM416 136h4v1h-4zM420 137h8v1h-8zM428 138h16v1h-16zM444 139h6v1h-6zM450 140h4v1h-4zM454 141h4v1h-4zM458 142h4v1h-4zM462 143h3v1h-3zM465 144h3v1h-3zM468 145h2v1h-2zM470 146h6v1h-6zM476 147h5v1h-5zM481 146h2v1h-2zM483 145h2v1h-2zM485 144h2v1h-2zM487 143h2v1h-2zM489 142h3v1h-3zM492 141h2v1h-2zM494 140h3v1h-3zM497 139h3v1h-3zM500 138h2v1h-2zM502 137h3v1h-3zM505 136h3v1h-3zM508 135h2v1h-2zM510 134h6v1h-6zM516 133h6v1h-6zM522 132h4v1h-4zM526 131h6v1h-6zM532 130h5v1h-5zM537 131h3v1h-3zM540 132h2v1h-2zM542 133h2v1h-2zM544 134h1v1h-1zM545 135h1v1h-1zM546 136h2v1h-2zM548 137h1v1h-1zM549 138h1v1h-1zM550 139h1v1h-1zM551 140h1v1h-1zM552 141h1v1h-1zM553 142h1v1h-1zM554 143h2v1h-2zM556 144h1v1h-1zM557 145h1v1h-1zM558 146h1v1h-1zM559 147h1v1h-1zM560 148h1v2h-1zM561 150h1v1h-1zM562 151h1v1h-1zM563 152h1v2h-1zM564 154h1v1h-1zM565 155h1v1h-1zM566 156h1v2h-1zM567 158h1v1h-1zM568 159h1v2h-1zM569 161h1v2h-1zM570 163h1v1h-1zM571 164h1v2h-1zM572 166h1v1h-1zM573 167h1v2h-1zM574 169h1v2h-1zM575 171h1v1h-1zM576 172h1v2h-1zM577 174h1v1h-1zM578 175h1v2h-1zM579 177h1v1h-1zM580 178h1v2h-1zM581 180h1v1h-1zM582 181h1v2h-1zM583 183h1v1h-1zM584 184h1v1h-1zM585 185h1v1h-1zM586 186h1v1h-1zM587 187h1v2h-1zM588 189h1v1h-1zM589 190h1v1h-1zM590 191h1v1h-1zM591 192h1v1h-1zM592 193h1v1h-1zM593 194h1v2h-1zM594 196h1v1h-1zM595 197h1v1h-1zM596 198h1v1h-1zM597 199h1v2h-1zM598 201h1v1h-1zM599 202h1v1h-1zM600 203h1v2h-1zM601 205h1v2h-1zM602 207h1v1h-1zM603 208h1v2h-1zM604 210h1v1h-1zM605 211h1v2h-1zM606 213h1v2h-1zM607 215h1v1h-1zM608 216h1v2h-1zM609 218h1v1h-1zM610 219h1v1h-1zM611 220h1v2h-1zM612 222h1v1h-1zM613 223h1v1h-1zM614 224h1v2h-1zM615 226h1v1h-1zM616 227h1v1h-1zM617 228h1v1h-1zM618 229h1v1h-1zM619 230h1v2h-1zM620 232h1v1h-1zM621 233h1v1h-1zM622 234h1v1h-1zM623 235h1v1h-1zM624 236h1v2h-1zM625 238h1v1h-1zM626 239h1v2h-1zM627 241h1v1h-1zM628 242h1v2h-1zM629 244h1v1h-1zM630 245h1v2h-1zM631 247h1v1h-1zM632 248h1v2h-1zM633 250h1v1h-1zM634 251h1v1h-1zM635 252h1v2h-1zM636 254h1v1h-1zM637 255h1v1h-1zM638 256h1v2h-1zM639 258h1v1h-1zM640 259h1v1h-1zM641 260h1v2h-1zM642 262h1v1h-1zM643 263h1v1h-1zM644 264h1v1h-1zM645 265h1v2h-1zM646 267h1v1h-1zM647 268h1v1h-1zM648 269h1v2h-1zM649 271h1v2h-1zM650 273h1v2h-1zM651 275h1v1h-1zM652 276h1v2h-1zM653 278h1v2h-1zM654 280h1v2h-1zM655 282h1v1h-1zM656 283h1v2h-1zM657 285h1v2h-1zM658 287h1v1h-1zM659 288h1v2h-1zM660 290h1v1h-1zM661 291h1v2h-1zM662 293h1v2h-1zM663 295h1v2h-1zM664 297h1v2h-1zM665 299h1v2h-1zM666 301h1v2h-1zM667 303h1v2h-1zM668 305h1v2h-1zM669 307h1v2h-1zM670 309h1v2h-1zM671 311h1v3h-1zM672 314h1v2h-1zM673 316h1v2h-1zM674 318h1v2h-1zM675 320h1v2h-1zM676 322h1v2h-1zM677 324h1v2h-1zM678 326h1v2h-1zM679 328h1v1h-1zM680 329h1v2h-1zM681 331h1v2h-1zM682 333h1v1h-1zM683 334h1v2h-1zM684 336h1v1h-1zM685 337h1v2h-1zM686 339h1v2h-1zM687 341h1v1h-1zM688 342h1v2h-1zM689 344h1v1h-1zM690 345h1v2h-1zM691 347h1v1h-1zM692 348h1v2h-1zM693 350h1v1h-1zM694 351h1v2h-1zM695 353h1v1h-1zM696 354h1v1h-1zM697 355h1v2h-1zM698 357h1v1h-1zM699 358h1v1h-1zM700 359h1v1h-1zM701 360h1v2h-1zM702 362h1v1h-1zM703 363h1v1h-1zM704 364h1v1h-1zM705 365h1v1h-1zM706 366h1v1h-1zM707 367h1v1h-1zM708 368h1v1h-1zM709 369h1v1h-1zM710 370h1v1h-1zM711 371h1v1h-1zM712 372h2v1h-2zM714 373h1v1h-1zM715 374h1v1h-1zM716 375h2v1h-2zM718 376h1v1h-1zM719 377h1v1h-1zM720 378h1v1h-1zM721 379h1v1h-1zM722 380h1v1h-1zM723 381h1v2h-1zM724 383h1v1h-1zM725 384h1v1h-1zM726 385h1v1h-1zM727 386h2v1h-2zM729 387h2v1h-2zM731 388h2v1h-2zM733 389h2v1h-2zM735 390h3v1h-3zM738 391h4v1h-4zM742 392h2v1h-2zM744 393h2v1h-2zM746 394h2v1h-2zM748 395h1v1h-1zM749 396h2v1h-2zM751 397h1v1h-1zM752 398h2v1h-2zM754 399h2v1h-2zM756 400h1v1h-1zM757 401h2v1h-2zM759 402h1v1h-1zM760 403h2v1h-2zM762 404h1v1h-1zM763 405h1v1h-1zM764 406h2v1h-2zM766 407h1v1h-1zM767 408h2v1h-2zM769 409h3v1h-3zM772 410h2v1h-2zM774 411h3v1h-3zM777 412h2v1h-2zM779 413h2v1h-2zM781 414h2v1h-2zM783 415h2v1h-2zM785 416h3v1h-3zM788 417h2v1h-2zM790 418h3v1h-3zM793 419h2v1h-2zM795 420h2v1h-2zM797 421h2v1h-2zM799 422h1v1h-1zM800 423h2v1h-2zM802 424h2v1h-2zM804 425h1v1h-1zM805 426h2v1h-2zM807 427h1v1h-1zM808 428h2v1h-2zM810 429h1v1h-1zM811 430h1v1h-1zM812 431h2v1h-2zM814 432h1v1h-1zM815 433h1v1h-1zM816 434h1v1h-1zM817 435h1v1h-1zM818 436h2v1h-2zM820 437h1v1h-1zM821 438h1v1h-1zM822 439h1v1h-1zM823 440h2v1h-2zM825 441h3v1h-3zM828 442h2v1h-2zM830 443h3v1h-3zM833 444h2v1h-2zM835 445h2v1h-2zM837 446h2v1h-2zM839 447h2v1h-2zM841 448h3v1h-3zM844 449h2v1h-2zM846 450h3v1h-3zM849 451h3v1h-3zM852 452h2v1h-2zM854 453h3v1h-3zM857 454h2v1h-2zM859 455h2v1h-2zM861 456h2v1h-2zM863 457h2v1h-2zM865 458h3v1h-3zM868 459h2v1h-2zM870 460h6v1h-6zM876 459h4v1h-4zM880 458h2v1h-2zM882 457h2v1h-2zM884 456h1v1h-1zM885 455h2v1h-2zM887 454h2v1h-2zM889 453h2v1h-2zM891 452h2v1h-2zM893 451h2v1h-2zM895 450h5v1h-5zM900 449h8v1h-8zM908 450h40v1h-40zM948 451h16v1h-16zM964 450h8v1h-8zM972 449h4v1h-4zM976 448h2v1h-2zM978 447h2v1h-2zM980 446h1v1h-1zM981 445h2v1h-2zM983 444h3v1h-3zM986 443h4v1h-4zM990 442h20v1h-20zM1010 443h4v1h-4zM1014 444h6v1h-6zM1020 445h8v1h-8zM1028 446h6v1h-6zM1034 447h4v1h-4zM1038 448h3v1h-3zM1041 449h3v1h-3zM1044 450h2v1h-2zM1046 451h3v1h-3zM1049 452h3v1h-3zM1052 453h2v1h-2zM1054 454h6v1h-6zM1060 455h32v1h-32zM1092 454h16v1h-16zM1108 455h6v1h-6zM1114 456h4v1h-4zM1118 457h4v1h-4zM1122 458h4v1h-4zM1126 459h14v1h-14zM1140 458h5v1h-5zM1145 457h3v1h-3zM1148 456h2v1h-2zM1150 455h3v1h-3zM1153 454h3v1h-3zM1156 453h2v1h-2zM1158 452h3v1h-3zM1161 451h3v1h-3zM1164 450h2v1h-2zM1166 449h3v1h-3zM1169 448h2v1h-2zM1171 447h2v1h-2zM1173 446h2v1h-2zM1175 445h2v1h-2zM1177 444h3v1h-3zM1180 443h2v1h-2zM1182 442h4v1h-4zM1186 441h4v1h-4zM1190 440h3v1h-3zM1193 439h3v1h-3zM1196 438h2v1h-2zM1198 437h3v1h-3zM1201 436h2v1h-2zM1203 435h2v1h-2zM1205 434h2v1h-2zM1207 433h1v1h-1zM1208 432h2v1h-2zM1210 431h2v1h-2zM1212 430h1v1h-1zM1213 429h2v1h-2zM1215 428h2v1h-2zM1217 427h3v1h-3zM1220 426h2v1h-2zM1222 425h2v1h-2zM1224 424h2v1h-2zM1226 423h2v1h-2zM1228 422h1v1h-1zM1229 421h2v1h-2zM1231 420h1v1h-1zM1232 419h2v1h-2zM1234 418h2v1h-2zM1236 417h1v1h-1zM1237 416h2v1h-2zM1239 415h1v1h-1zM1240 414h2v1h-2zM1242 413h2v1h-2zM1244 412h1v1h-1zM1245 411h2v1h-2zM1247 410h2v1h-2zM1249 409h3v1h-3zM1252 408h2v1h-2zM1254 407h2v1h-2zM1256 406h2v1h-2zM1258 405h2v1h-2zM1260 404h1v1h-1zM1261 403h2v1h-2zM1263 402h1v1h-1zM1264 401h2v1h-2zM1266 400h2v1h-2zM1268 399h1v1h-1zM1269 398h2v1h-2zM1271 397h1v1h-1zM1272 396h2v1h-2zM1274 395h2v1h-2zM1276 394h1v1h-1zM1277 393h2v1h-2zM1279 392h2v1h-2zM1281 391h2v1h-2zM1283 390h2v1h-2zM1285 389h2v1h-2zM1287 388h2v1h-2zM1289 387h3v1h-3zM1292 386h2v1h-2zM1294 385h6v1h-6zM1300 384h8v1h-8zM1308 385h6v1h-6zM1314 386h4v1h-4zM1318 387h4v1h-4zM1322 388h4v1h-4zM1326 389h3v1h-3zM1329 390h3v1h-3zM1332 391h2v1h-2zM1334 392h3v1h-3zM1337 393h3v1h-3zM1340 394h2v1h-2zM1342 395h3v1h-3zM1345 396h3v1h-3zM1348 397h2v1h-2zM1350 398h4v1h-4zM1354 399h4v1h-4zM1358 400h3v1h-3zM1361 401h3v1h-3zM1364 402h2v1h-2zM1366 403h2v1h-2zM1368 404h2v1h-2zM1370 405h2v1h-2zM1372 406h1v1h-1zM1373 407h2v1h-2zM1375 408h2v1h-2zM1377 409h3v1h-3zM1380 410h2v1h-2zM1382 411h4v1h-4zM1386 412h4v1h-4zM1390 413h12v1h-12zM1402 414h4v1h-4zM1406 415h2v1h-2z" fill="#27a85f"/>
<path d="M0 225h1v1h-1zM1 226h1v1h-1zM2 227h1v1h-1zM3 228h1v2h-1zM4 230h1v1h-1zM5 231h1v1h-1zM6 232h1v1h-1zM7 233h5v1h-5zM12 234h6v1h-6zM18 235h5v1h-5zM23 236h4v1h-4zM27 237h2v1h-2zM29 238h2v1h-2zM31 239h2v1h-2zM33 240h2v1h-2zM35 241h1v1h-1zM36 242h1v1h-1zM37 243h2v1h-2zM39 244h1v1h-1zM40 245h1v1h-1zM41 246h2v1h-2zM43 247h1v1h-1zM44 248h1v1h-1zM45 249h2v1h-2zM47 250h1v1h-1zM48 251h1v1h-1zM49 252h1v1h-1zM50 253h2v1h-2zM52 254h1v1h-1zM53 255h1v1h-1zM54 256h1v1h-1zM55 257h1v1h-1zM56 258h2v1h-2zM58 259h1v1h-1zM59 260h1v1h-1zM60 261h2v1h-2zM62 262h1v1h-1zM63 263h5v1h-5zM68 264h5v1h-5zM73 263h3v1h-3zM76 262h2v1h-2zM78 261h4v1h-4zM82 262h4v1h-4zM86 263h4v1h-4zM90 264h4v1h-4zM94 265h14v1h-14zM108 264h16v1h-16zM124 263h14v1h-14zM138 262h4v1h-4zM142 261h6v1h-6zM148 262h4v1h-4zM152 261h2v1h-2zM154 260h1v1h-1zM155 259h1v1h-1zM156 258h2v1h-2zM158 257h1v1h-1zM159 256h2v1h-2zM161 257h3v1h-3zM164 258h2v1h-2zM166 259h2v1h-2zM168 260h1v2h-1zM169 262h1v1h-1zM170 263h1v1h-1zM171 264h1v2h-1zM172 266h1v1h-1zM173 267h1v1h-1zM174 268h1v2h-1zM175 270h2v1h-2zM177 271h3v1h-3zM180 272h2v1h-2zM182 273h3v1h-3zM185 274h2v1h-2zM187 275h2v1h-2zM189 276h2v1h-2zM191 277h2v1h-2zM193 278h3v1h-3zM196 279h2v1h-2zM198 280h3v1h-3zM201 281h2v1h-2zM203 282h2v1h-2zM205 283h2v1h-2zM207 284h2v1h-2zM209 283h2v1h-2zM211 282h2v1h-2zM213 281h2v1h-2zM215 280h2v1h-2zM217 279h3v1h-3zM220 278h2v1h-2zM222 277h3v1h-3zM225 276h3v1h-3zM228 275h2v1h-2zM230 274h2v1h-2zM232 273h2v1h-2zM234 272h1v1h-1zM235 271h1v1h-1zM236 270h2v1h-2zM238 269h1v1h-1zM239 268h1v1h-1zM240 267h1v1h-1zM241 266h1v1h-1zM242 265h1v1h-1zM243 264h1v1h-1zM244 263h1v1h-1zM245 262h1v1h-1zM246 261h1v1h-1zM247 260h1v1h-1zM248 258h1v2h-1zM249 257h1v1h-1zM250 255h1v2h-1zM251 254h1v1h-1zM252 252h1v2h-1zM253 251h1v1h-1zM254 249h1v2h-1zM255 248h1v1h-1zM256 247h1v1h-1zM257 245h1v2h-1zM258 244h1v1h-1zM259 243h1v1h-1zM260 242h1v1h-1zM261 240h1v2h-1zM262 239h1v1h-1zM263 238h1v1h-1zM264 237h1v1h-1zM265 236h1v1h-1zM266 235h1v1h-1zM267 234h1v1h-1zM268 233h1v1h-1zM269 232h1v1h-1zM270 231h1v1h-1zM271 230h1v1h-1zM272 228h1v2h-1zM273 227h1v1h-1zM274 225h1v2h-1zM275 224h1v1h-1zM276 222h1v2h-1zM277 221h1v1h-1zM278 219h1v2h-1zM279 218h1v1h-1zM280 216h1v2h-1zM281 215h1v1h-1zM282 214h1v1h-1zM283 212h1v2h-1zM284 211h1v1h-1zM285 210h1v1h-1zM286 208h1v2h-1zM287 207h1v1h-1zM288 205h1v2h-1zM289 204h1v1h-1zM290 203h1v1h-1zM291 201h1v2h-1zM292 200h1v1h-1zM293 199h1v1h-1zM294 197h1v2h-1zM295 196h1v1h-1zM296 195h1v1h-1zM297 193h1v2h-1zM298 192h1v1h-1zM299 191h1v1h-1zM300 190h1v1h-1zM301 188h1v2h-1zM302 187h1v1h-1zM303 186h1v1h-1zM304 184h1v2h-1zM305 182h1v2h-1zM306 180h1v2h-1zM307 179h1v1h-1zM308 177h1v2h-1zM309 175h1v2h-1zM310 173h1v2h-1zM311 171h1v2h-1zM312 169h1v2h-1zM313 167h1v2h-1zM314 165h1v2h-1zM315 163h1v2h-1zM316 161h1v2h-1zM317 159h1v2h-1zM318 157h1v2h-1zM319 156h1v1h-1zM320 157h1v1h-1zM321 158h1v1h-1zM322 159h2v1h-2zM324 160h1v1h-1zM325 161h1v1h-1zM326 162h1v1h-1zM327 163h1v1h-1zM328 164h1v1h-1zM329 165h1v2h-1zM330 167h1v1h-1zM331 168h1v1h-1zM332 169h1v1h-1zM333 170h1v2h-1zM334 172h1v1h-1zM335 173h1v1h-1zM336 174h1v1h-1zM337 175h1v1h-1zM338 176h1v1h-1zM339 177h1v2h-1zM340 179h1v1h-1zM341 180h1v1h-1zM342 181h1v1h-1zM343 182h1v1h-1zM344 183h1v1h-1zM345 184h1v1h-1zM346 185h1v1h-1zM347 186h1v1h-1zM348 187h1v1h-1zM349 188h1v1h-1zM350 189h1v1h-1zM351 190h1v1h-1zM352 191h2v1h-2zM354 192h1v1h-1zM355 193h1v1h-1zM356 194h2v1h-2zM358 195h1v1h-1zM359 196h1v1h-1zM360 197h2v1h-2zM362 198h1v1h-1zM363 199h1v1h-1zM364 200h2v1h-2zM366 201h1v1h-1zM367 202h2v1h-2zM369 203h2v1h-2zM371 204h2v1h-2zM373 205h2v1h-2zM375 206h5v1h-5zM380 205h8v1h-8zM388 204h8v1h-8zM396 203h14v1h-14zM410 204h4v1h-4zM414 205h6v1h-6zM420 206h32v1h-32zM452 205h8v1h-8zM460 204h6v1h-6zM466 203h4v1h-4zM470 202h3v1h-3zM473 201h2v1h-2zM475 200h2v1h-2zM477 199h2v1h-2zM479 198h1v1h-1zM480 197h1v1h-1zM481 196h1v1h-1zM482 195h2v1h-2zM484 194h1v1h-1zM485 193h1v1h-1zM486 192h1v1h-1zM487 191h1v1h-1zM488 190h2v1h-2zM490 189h1v1h-1zM491 188h1v1h-1zM492 187h2v1h-2zM494 186h1v1h-1zM495 185h1v1h-1zM496 184h1v1h-1zM497 183h1v1h-1zM498 182h2v1h-2zM500 181h1v1h-1zM501 180h1v1h-1zM502 179h1v1h-1zM503 178h1v1h-1zM504 177h2v1h-2zM506 176h2v1h-2zM508 175h1v1h-1zM509 174h2v1h-2zM511 173h1v1h-1zM512 172h2v1h-2zM514 171h2v1h-2zM516 170h1v1h-1zM517 169h2v1h-2zM519 168h1v1h-1zM520 167h2v1h-2zM522 166h2v1h-2zM524 165h1v1h-1zM525 164h2v1h-2zM527 163h1v1h-1zM528 162h2v1h-2zM530 161h2v1h-2zM532 160h1v1h-1zM533 159h2v1h-2zM535 158h1v1h-1zM536 159h1v2h-1zM537 161h1v1h-1zM538 162h1v2h-1zM539 164h1v1h-1zM540 165h1v2h-1zM541 167h1v1h-1zM542 168h1v2h-1zM543 170h1v3h-1zM544 173h1v4h-1zM545 177h1v5h-1zM546 182h1v4h-1zM547 186h1v5h-1zM548 191h1v4h-1zM549 195h1v5h-1zM550 200h1v4h-1zM551 204h1v4h-1zM552 208h1v4h-1zM553 212h1v4h-1zM554 216h1v4h-1zM555 220h1v4h-1zM556 224h1v4h-1zM557 228h1v4h-1zM558 232h1v4h-1zM559 236h1v7h-1zM560 243h1v4h-1zM561 247h1v3h-1zM562 250h1v3h-1zM563 253h1v4h-1zM564 257h1v3h-1zM565 260h1v3h-1zM566 263h1v4h-1zM567 267h1v4h-1zM568 271h1v6h-1zM569 277h1v5h-1zM570 282h1v5h-1zM571 287h1v6h-1zM572 293h1v5h-1zM573 298h1v5h-1zM574 303h1v6h-1zM575 309h1v5h-1zM576 314h1v6h-1zM577 320h1v6h-1zM578 326h1v6h-1zM579 332h1v5h-1zM580 337h1v6h-1zM581 343h1v6h-1zM582 349h1v6h-1zM583 355h1v4h-1zM584 359h1v2h-1zM585 361h1v3h-1zM586 364h1v2h-1zM587 366h1v3h-1zM588 369h1v2h-1zM589 371h1v3h-1zM590 374h1v2h-1zM591 376h1v3h-1zM592 379h1v2h-1zM593 381h1v2h-1zM594 383h1v2h-1zM595 385h1v2h-1zM596 387h1v2h-1zM597 389h1v2h-1zM598 391h1v2h-1zM599 393h1v3h-1zM600 396h1v2h-1zM601 398h1v2h-1zM602 400h1v2h-1zM603 402h1v3h-1zM604 405h1v2h-1zM605 407h1v2h-1zM606 409h1v2h-1zM607 411h1v2h-1zM608 413h1v2h-1zM609 415h1v2h-1zM610 417h1v2h-1zM611 419h1v2h-1zM612 421h1v2h-1zM613 423h1v2h-1zM614 425h1v2h-1zM615 427h1v2h-1zM616 429h1v2h-1zM617 431h1v2h-1zM618 433h1v2h-1zM619 435h1v2h-1zM620 437h1v2h-1zM621 439h1v2h-1zM622 441h1v2h-1zM623 443h1v2h-1zM624 445h1v2h-1zM625 447h1v2h-1zM626 449h1v2h-1zM627 451h1v2h-1zM628 453h1v2h-1zM629 455h1v2h-1zM630 457h1v2h-1zM631 459h1v1h-1zM632 460h2v1h-2zM634 461h1v1h-1zM635 462h1v1h-1zM636 463h2v1h-2zM638 464h1v1h-1zM639 465h1v1h-1zM640 466h1v1h-1zM641 467h1v1h-1zM642 468h1v1h-1zM643 469h1v1h-1zM644 470h1v1h-1zM645 471h1v1h-1zM646 472h1v1h-1zM647 473h1v1h-1zM648 474h1v1h-1zM649 475h1v1h-1zM650 476h2v1h-2zM652 477h1v1h-1zM653 478h1v1h-1zM654 479h1v1h-1zM655 480h2v1h-2zM657 481h2v1h-2zM659 482h2v1h-2zM661 483h2v1h-2zM663 484h1v1h-1zM664 485h1v1h-1zM665 486h1v1h-1zM666 487h1v1h-1zM667 488h1v2h-1zM668 490h1v1h-1zM669 491h1v1h-1zM670 492h1v1h-1zM671 493h1v1h-1zM672 494h2v1h-2zM674 495h1v1h-1zM675 496h1v1h-1zM676 497h2v1h-2zM678 498h1v1h-1zM679 499h2v1h-2zM681 498h2v1h-2zM683 497h2v1h-2zM685 496h2v1h-2zM687 494h1v2h-1zM688 492h1v2h-1zM689 490h1v2h-1zM690 488h1v2h-1zM691 485h1v3h-1zM692 483h1v2h-1zM693 481h1v2h-1zM694 479h1v2h-1zM695 476h1v3h-1zM696 474h1v2h-1zM697 472h1v2h-1zM698 470h1v2h-1zM699 468h1v2h-1zM700 466h1v2h-1zM701 464h1v2h-1zM702 462h1v2h-1zM703 461h1v1h-1zM704 459h1v2h-1zM705 458h1v1h-1zM706 456h1v2h-1zM707 455h1v1h-1zM708 453h1v2h-1zM709 452h1v1h-1zM710 450h1v2h-1zM711 449h1v1h-1zM712 450h2v1h-2zM714 451h2v1h-2zM716 452h1v1h-1zM717 453h2v1h-2zM719 454h1v2h-1zM720 456h1v2h-1zM721 458h1v2h-1zM722 460h1v2h-1zM723 462h1v3h-1zM724 465h1v2h-1zM725 467h1v2h-1zM726 469h1v2h-1zM727 471h1v2h-1zM728 473h1v2h-1zM729 475h1v1h-1zM730 476h1v2h-1zM731 478h1v1h-1zM732 479h1v2h-1zM733 481h1v1h-1zM734 482h1v2h-1zM735 484h1v1h-1zM736 485h1v1h-1zM737 486h1v1h-1zM738 487h2v1h-2zM740 488h1v1h-1zM741 489h1v1h-1zM742 490h1v1h-1zM743 491h5v1h-5zM748 492h8v1h-8zM756 493h8v1h-8zM764 494h8v1h-8zM772 495h6v1h-6zM778 496h4v1h-4zM782 497h6v1h-6zM788 498h4v1h-4zM792 497h2v1h-2zM794 496h1v1h-1zM795 495h1v1h-1zM796 494h2v1h-2zM798 493h1v1h-1zM799 492h1v1h-1zM800 491h2v1h-2zM802 490h2v1h-2zM804 489h1v1h-1zM805 488h2v1h-2zM807 487h1v1h-1zM808 488h1v2h-1zM809 490h1v1h-1zM810 491h1v1h-1zM811 492h1v2h-1zM812 494h1v1h-1zM813 495h1v1h-1zM814 496h1v2h-1zM815 498h1v2h-1zM816 500h1v3h-1zM817 503h1v3h-1zM818 506h1v3h-1zM819 509h1v3h-1zM820 512h1v3h-1zM821 515h1v3h-1zM822 518h1v3h-1zM823 521h1v2h-1zM824 523h1v2h-1zM825 525h1v1h-1zM826 526h1v1h-1zM827 527h1v2h-1zM828 529h1v1h-1zM829 530h1v1h-1zM830 531h1v2h-1zM831 533h1v1h-1zM832 534h2v1h-2zM834 535h1v1h-1zM835 536h1v1h-1zM836 537h2v1h-2zM838 538h1v1h-1zM839 539h1v1h-1zM840 540h2v1h-2zM842 541h1v1h-1zM843 542h1v1h-1zM844 543h2v1h-2zM846 544h1v1h-1zM847 545h2v1h-2zM849 544h3v1h-3zM852 543h2v1h-2zM854 542h3v1h-3zM857 541h3v1h-3zM860 540h2v1h-2zM862 539h3v1h-3zM865 538h2v1h-2zM867 537h2v1h-2zM869 536h2v1h-2zM871 535h5v1h-5zM876 534h8v1h-8zM884 533h16v1h-16zM900 532h40v1h-40zM940 533h28v1h-28zM968 532h2v1h-2zM970 531h2v1h-2zM972 530h1v1h-1zM973 529h2v1h-2zM975 527h1v2h-1zM976 524h1v3h-1zM977 521h1v3h-1zM978 518h1v3h-1zM979 516h1v2h-1zM980 513h1v3h-1zM981 510h1v3h-1zM982 507h1v3h-1zM983 505h2v1h-2zM983 506h1v1h-1zM985 504h2v1h-2zM987 503h2v1h-2zM989 502h2v1h-2zM991 501h5v1h-5zM996 500h8v1h-8zM1004 499h5v1h-5zM1009 500h3v1h-3zM1012 501h2v1h-2zM1014 502h4v1h-4zM1018 503h4v1h-4zM1022 504h6v1h-6zM1028 505h14v1h-14zM1042 504h4v1h-4zM1046 503h3v1h-3zM1049 502h2v1h-2zM1051 501h2v1h-2zM1053 500h2v1h-2zM1055 499h5v1h-5zM1060 498h24v1h-24zM1084 499h8v1h-8zM1092 500h16v1h-16zM1108 501h8v1h-8zM1116 502h6v1h-6zM1122 503h4v1h-4zM1126 504h19v1h-19zM1145 503h2v1h-2zM1147 502h2v1h-2zM1149 501h2v1h-2zM1151 500h1v1h-1zM1152 499h2v1h-2zM1154 498h1v1h-1zM1155 497h1v1h-1zM1156 496h2v1h-2zM1158 495h1v1h-1zM1159 494h1v1h-1zM1160 493h2v1h-2zM1162 492h1v1h-1zM1163 491h1v1h-1zM1164 490h2v1h-2zM1166 489h1v1h-1zM1167 488h2v1h-2zM1169 487h2v1h-2zM1171 486h2v1h-2zM1173 485h2v1h-2zM1175 484h5v1h-5zM1180 483h5v1h-5zM1185 484h3v1h-3zM1188 485h2v1h-2zM1190 486h3v1h-3zM1193 485h3v1h-3zM1196 484h2v1h-2zM1198 483h4v1h-4zM1202 484h4v1h-4zM1206 485h2v1h-2zM1208 486h2v1h-2zM1210 487h2v1h-2zM1212 488h1v1h-1zM1213 489h2v1h-2zM1215 490h2v1h-2zM1217 491h3v1h-3zM1220 492h2v1h-2zM1222 493h3v1h-3zM1225 494h2v1h-2zM1227 495h2v1h-2zM1229 496h2v1h-2zM1231 497h2v1h-2zM1233 498h3v1h-3zM1236 499h2v1h-2zM1238 500h4v1h-4zM1242 501h4v1h-4zM1246 502h6v1h-6zM1252 501h5v1h-5zM1257 500h3v1h-3zM1260 499h2v1h-2zM1262 498h2v1h-2zM1264 497h1v1h-1zM1265 496h1v1h-1zM1266 495h1v1h-1zM1267 494h1v1h-1zM1268 493h1v1h-1zM1269 492h1v1h-1zM1270 491h1v1h-1zM1271 490h1v1h-1zM1272 489h1v1h-1zM1273 487h1v2h-1zM1274 486h1v1h-1zM1275 485h1v1h-1zM1276 484h1v1h-1zM1277 482h1v2h-1zM1278 481h1v1h-1zM1279 480h1v1h-1zM1280 478h1v2h-1zM1281 476h1v2h-1zM1282 475h1v1h-1zM1283 473h1v2h-1zM1284 472h1v1h-1zM1285 470h1v2h-1zM1286 468h1v2h-1zM1287 467h1v1h-1zM1288 466h1v1h-1zM1289 464h1v2h-1zM1290 463h1v1h-1zM1291 462h1v1h-1zM1292 461h1v1h-1zM1293 459h1v2h-1zM1294 458h1v1h-1zM1295 457h3v1h-3zM1298 456h4v1h-4zM1302 455h2v1h-2zM1304 456h2v1h-2zM1306 457h2v1h-2zM1308 458h1v1h-1zM1309 459h2v1h-2zM1311 460h1v1h-1zM1312 461h2v1h-2zM1314 462h2v1h-2zM1316 463h1v1h-1zM1317 464h2v1h-2zM1319 465h1v1h-1zM1320 466h1v1h-1zM1321 467h1v2h-1zM1322 469h1v1h-1zM1323 470h1v1h-1zM1324 471h1v1h-1zM1325 472h1v2h-1zM1326 474h1v1h-1zM1327 475h1v1h-1zM1328 476h1v1h-1zM1329 477h1v1h-1zM1330 478h1v1h-1zM1331 479h1v2h-1zM1332 481h1v1h-1zM1333 482h1v1h-1zM1334 483h1v1h-1zM1335 484h1v1h-1zM1336 485h1v1h-1zM1337 486h1v1h-1zM1338 487h1v1h-1zM1339 488h1v1h-1zM1340 489h1v1h-1zM1341 490h1v1h-1zM1342 491h1v1h-1zM1343 492h1v1h-1zM1344 493h1v1h-1zM1345 494h1v1h-1zM1346 495h2v1h-2zM1348 496h1v1h-1zM1349 497h1v1h-1zM1350 498h1v1h-1zM1351 499h2v1h-2zM1353 500h2v1h-2zM1355 501h2v1h-2zM1357 502h2v1h-2zM1359 503h1v1h-1zM1360 504h2v1h-2zM1362 505h1v1h-1zM1363 506h1v1h-1zM1364 507h2v1h-2zM1366 508h1v1h-1zM1367 509h2v1h-2zM1369 510h2v1h-2zM1371 511h2v1h-2zM1373 512h2v1h-2zM1375 513h13v1h-13zM1388 512h6v1h-6zM1394 511h4v1h-4zM1398 510h3v1h-3zM1401 509h3v1h-3zM1404 508h2v1h-2zM1406 507h2v1h-2z" fill="#27a85f"/>
<rect x="-1" y="155" width="1" height="55" fill="#000" />
<rect x="-3" y="161" width="5" height="46" fill="#000" />
<rect x="-2" y="162" width="3" height="44" fill="#fff" />
<rect x="7" y="140" width="1" height="94" fill="#000" />
<rect x="5" y="161" width="5" height="72" fill="#000" />
<rect x="15" y="222" width="1" height="20" fill="#000" />
<rect x="13" y="224" width="5" height="9" fill="#000" />
<rect x="14" y="225" width="3" height="7" fill="#fff" />
<rect x="23" y="202" width="1" height="25" fill="#000" />
<rect x="21" y="218" width="5" height="6" fill="#000" />
<rect x="22" y="219" width="3" height="4" fill="#fff" />
<rect x="31" y="201" width="1" height="32" fill="#000" />
<rect x="29" y="217" width="5" height="7" fill="#000" />
<rect x="39" y="211" width="1" height="43" fill="#000" />
<rect x="37" y="223" width="5" height="9" fill="#000" />
<rect x="47" y="218" width="1" height="31" fill="#000" />
<rect x="45" y="231" width="5" height="7" fill="#000" />
<rect x="55" y="229" width="1" height="28" fill="#000" />
<rect x="53" y="236" width="5" height="15" fill="#000" />
<rect x="63" y="247" width="1" height="13" fill="#000" />
<rect x="61" y="250" width="5" height="6" fill="#000" />
<rect x="71" y="228" width="1" height="29" fill="#000" />
<rect x="69" y="234" width="5" height="22" fill="#000" />
<rect x="70" y="235" width="3" height="20" fill="#fff" />
<rect x="79" y="211" width="1" height="30" fill="#000" />
<rect x="77" y="230" width="5" height="5" fill="#000" />
<rect x="78" y="231" width="3" height="3" fill="#fff" />
<rect x="87" y="210" width="1" height="31" fill="#000" />
<rect x="85" y="225" width="5" height="7" fill="#000" />
<rect x="86" y="226" width="3" height="5" fill="#fff" />
<rect x="95" y="218" width="1" height="34" fill="#000" />
<rect x="93" y="225" width="5" height="13" fill="#000" />
<rect x="103" y="209" width="1" height="30" fill="#000" />
<rect x="101" y="215" width="5" height="23" fill="#000" />
<rect x="102" y="216" width="3" height="21" fill="#fff" />
<rect x="111" y="202" width="1" height="18" fill="#000" />
<rect x="109" y="210" width="5" height="4" fill="#000" />
<rect x="110" y="211" width="3" height="2" fill="#fff" />
<rect x="119" y="202" width="1" height="19" fill="#000" />
<rect x="117" y="209" width="5" height="6" fill="#000" />
<rect x="127" y="191" width="1" height="25" fill="#000" />
<rect x="125" y="204" width="5" height="11" fill="#000" />
<rect x="126" y="205" width="3" height="9" fill="#fff" />
<rect x="135" y="202" width="1" height="35" fill="#000" />
<rect x="133" y="204" width="5" height="2" fill="#000" />
<rect x="143" y="178" width="1" height="38" fill="#000" />
<rect x="141" y="196" width="5" height="9" fill="#000" />
<rect x="142" y="197" width="3" height="7" fill="#fff" />
<rect x="151" y="180" width="1" height="25" fill="#000" />
<rect x="149" y="186" width="5" height="11" fill="#000" />
<rect x="150" y="187" width="3" height="9" fill="#fff" />
<rect x="159" y="181" width="1" height="21" fill="#000" />
<rect x="157" y="186" width="5" height="13" fill="#000" />
<rect x="167" y="161" width="1" height="39" fill="#000" />
<rect x="165" y="169" width="5" height="31" fill="#000" />
<rect x="166" y="170" width="3" height="29" fill="#fff" />
<rect x="175" y="127" width="1" height="66" fill="#000" />
<rect x="173" y="128" width="5" height="42" fill="#000" />
<rect x="174" y="129" width="3" height="40" fill="#fff" />
<rect x="183" y="124" width="1" height="36" fill="#000" />
<rect x="181" y="128" width="5" height="22" fill="#000" />
<rect x="191" y="111" width="1" height="41" fill="#000" />
<rect x="189" y="134" width="5" height="16" fill="#000" />
<rect x="190" y="135" width="3" height="14" fill="#fff" />
<rect x="199" y="105" width="1" height="35" fill="#000" />
<rect x="197" y="112" width="5" height="23" fill="#000" />
<rect x="198" y="113" width="3" height="21" fill="#fff" />
<rect x="207" y="87" width="1" height="32" fill="#000" />
<rect x="205" y="92" width="5" height="21" fill="#000" />
<rect x="206" y="93" width="3" height="19" fill="#fff" />
<rect x="215" y="87" width="1" height="35" fill="#000" />
<rect x="213" y="91" width="5" height="14" fill="#000" />
<rect x="223" y="48" width="1" height="60" fill="#000" />
<rect x="221" y="70" width="5" height="35" fill="#000" />
<rect x="222" y="71" width="3" height="33" fill="#fff" />
<rect x="231" y="67" width="1" height="44" fill="#000" />
<rect x="229" y="70" width="5" height="11" fill="#000" />
<rect x="239" y="57" width="1" height="54" fill="#000" />
<rect x="237" y="80" width="5" height="17" fill="#000" />
<rect x="247" y="88" width="1" height="50" fill="#000" />
<rect x="245" y="95" width="5" height="30" fill="#000" />
<rect x="255" y="102" width="1" height="47" fill="#000" />
<rect x="253" y="112" width="5" height="12" fill="#000" />
<rect x="254" y="113" width="3" height="10" fill="#fff" />
<rect x="263" y="104" width="1" height="37" fill="#000" />
<rect x="261" y="110" width="5" height="9" fill="#000" />
<rect x="271" y="98" width="1" height="28" fill="#000" />
<rect x="269" y="110" width="5" height="10" fill="#000" />
<rect x="270" y="111" width="3" height="8" fill="#fff" />
<rect x="279" y="90" width="1" height="27" fill="#000" />
<rect x="277" y="111" width="5" height="4" fill="#000" />
<rect x="287" y="97" width="1" height="31" fill="#000" />
<rect x="285" y="113" width="5" height="2" fill="#000" />
<rect x="295" y="89" width="1" height="33" fill="#000" />
<rect x="293" y="95" width="5" height="19" fill="#000" />
<rect x="294" y="96" width="3" height="17" fill="#fff" />
<rect x="303" y="87" width="1" height="29" fill="#000" />
<rect x="301" y="90" width="5" height="5" fill="#000" />
<rect x="302" y="91" width="3" height="3" fill="#fff" />
<rect x="311" y="83" width="1" height="18" fill="#000" />
<rect x="309" y="91" width="5" height="3" fill="#000" />
<rect x="319" y="73" width="1" height="27" fill="#000" />
<rect x="317" y="88" width="5" height="6" fill="#000" />
<rect x="318" y="89" width="3" height="4" fill="#fff" />
<rect x="327" y="77" width="1" height="159" fill="#000" />
<rect x="325" y="89" width="5" height="105" fill="#000" />
<rect x="335" y="154" width="1" height="92" fill="#000" />
<rect x="333" y="179" width="5" height="14" fill="#000" />
<rect x="334" y="180" width="3" height="12" fill="#fff" />
<rect x="343" y="164" width="1" height="27" fill="#000" />
<rect x="341" y="180" width="5" height="6" fill="#000" />
<rect x="351" y="168" width="1" height="18" fill="#000" />
<rect x="349" y="174" width="5" height="5" fill="#000" />
<rect x="350" y="175" width="3" height="3" fill="#fff" />
<rect x="359" y="157" width="1" height="28" fill="#000" />
<rect x="357" y="175" width="5" height="1" fill="#000" />
<rect x="367" y="147" width="1" height="28" fill="#000" />
<rect x="365" y="169" width="5" height="6" fill="#000" />
<rect x="366" y="170" width="3" height="4" fill="#fff" />
<rect x="375" y="150" width="1" height="43" fill="#000" />
<rect x="373" y="168" width="5" height="2" fill="#000" />
<rect x="383" y="122" width="1" height="57" fill="#000" />
<rect x="381" y="136" width="5" height="33" fill="#000" />
<rect x="382" y="137" width="3" height="31" fill="#fff" />
<rect x="391" y="109" width="1" height="31" fill="#000" />
<rect x="389" y="127" width="5" height="10" fill="#000" />
<rect x="390" y="128" width="3" height="8" fill="#fff" />
<rect x="399" y="117" width="1" height="19" fill="#000" />
<rect x="397" y="127" width="5" height="7" fill="#000" />
<rect x="407" y="94" width="1" height="42" fill="#000" />
<rect x="405" y="99" width="5" height="34" fill="#000" />
<rect x="406" y="100" width="3" height="32" fill="#fff" />
<rect x="415" y="95" width="1" height="62" fill="#000" />
<rect x="413" y="99" width="5" height="45" fill="#000" />
<rect x="423" y="142" width="1" height="37" fill="#000" />
<rect x="421" y="143" width="5" height="11" fill="#000" />
<rect x="431" y="121" width="1" height="41" fill="#000" />
<rect x="429" y="140" width="5" height="14" fill="#000" />
<rect x="430" y="141" width="3" height="12" fill="#fff" />
<rect x="439" y="115" width="1" height="38" fill="#000" />
<rect x="437" y="116" width="5" height="25" fill="#000" />
<rect x="438" y="117" width="3" height="23" fill="#fff" />
<rect x="447" y="103" width="1" height="20" fill="#000" />
<rect x="445" y="114" width="5" height="3" fill="#000" />
<rect x="446" y="115" width="3" height="1" fill="#fff" />
<rect x="455" y="100" width="1" height="28" fill="#000" />
<rect x="453" y="113" width="5" height="15" fill="#000" />
<rect x="463" y="124" width="1" height="26" fill="#000" />
<rect x="461" y="128" width="5" height="21" fill="#000" />
<rect x="471" y="120" width="1" height="52" fill="#000" />
<rect x="469" y="135" width="5" height="13" fill="#000" />
<rect x="470" y="136" width="3" height="11" fill="#fff" />
<rect x="479" y="118" width="1" height="30" fill="#000" />
<rect x="477" y="124" width="5" height="11" fill="#000" />
<rect x="478" y="125" width="3" height="9" fill="#fff" />
<rect x="487" y="120" width="1" height="23" fill="#000" />
<rect x="485" y="124" width="5" height="7" fill="#000" />
<rect x="495" y="124" width="1" height="14" fill="#000" />
<rect x="493" y="129" width="5" height="2" fill="#000" />
<rect x="503" y="109" width="1" height="22" fill="#000" />
<rect x="501" y="114" width="5" height="15" fill="#000" />
<rect x="502" y="115" width="3" height="13" fill="#fff" />
<rect x="511" y="108" width="1" height="17" fill="#000" />
<rect x="509" y="112" width="5" height="3" fill="#000" />
<rect x="510" y="113" width="3" height="1" fill="#fff" />
<rect x="519" y="108" width="1" height="44" fill="#000" />
<rect x="517" y="112" width="5" height="32" fill="#000" />
<rect x="527" y="140" width="1" height="27" fill="#000" />
<rect x="525" y="143" width="5" height="3" fill="#000" />
<rect x="535" y="132" width="1" height="18" fill="#000" />
<rect x="533" y="141" width="5" height="5" fill="#000" />
<rect x="534" y="142" width="3" height="3" fill="#fff" />
<rect x="543" y="139" width="1" height="53" fill="#000" />
<rect x="541" y="142" width="5" height="45" fill="#000" />
<rect x="551" y="181" width="1" height="70" fill="#000" />
<rect x="549" y="187" width="5" height="57" fill="#000" />
<rect x="559" y="228" width="1" height="84" fill="#000" />
<rect x="557" y="243" width="5" height="62" fill="#000" />
<rect x="567" y="265" width="1" height="109" fill="#000" />
<rect x="565" y="304" width="5" height="4" fill="#000" />
<rect x="575" y="257" width="1" height="143" fill="#000" />
<rect x="573" y="307" width="5" height="81" fill="#000" />
<rect x="583" y="365" width="1" height="43" fill="#000" />
<rect x="581" y="387" width="5" height="4" fill="#000" />
<rect x="591" y="300" width="1" height="69" fill="#000" />
<rect x="589" y="319" width="5" height="35" fill="#000" />
<rect x="590" y="320" width="3" height="33" fill="#fff" />
<rect x="599" y="304" width="1" height="51" fill="#000" />
<rect x="597" y="318" width="5" height="12" fill="#000" />
<rect x="607" y="320" width="1" height="89" fill="#000" />
<rect x="605" y="330" width="5" height="16" fill="#000" />
<rect x="615" y="322" width="1" height="58" fill="#000" />
<rect x="613" y="346" width="5" height="4" fill="#000" />
<rect x="623" y="320" width="1" height="61" fill="#000" />
<rect x="621" y="349" width="5" height="29" fill="#000" />
<rect x="631" y="349" width="1" height="31" fill="#000" />
<rect x="629" y="368" width="5" height="9" fill="#000" />
<rect x="630" y="369" width="3" height="7" fill="#fff" />
<rect x="639" y="326" width="1" height="46" fill="#000" />
<rect x="637" y="335" width="5" height="35" fill="#000" />
<rect x="638" y="336" width="3" height="33" fill="#fff" />
<rect x="647" y="325" width="1" height="22" fill="#000" />
<rect x="645" y="335" width="5" height="10" fill="#000" />
<rect x="655" y="345" width="1" height="88" fill="#000" />
<rect x="653" y="345" width="5" height="50" fill="#000" />
<rect x="663" y="386" width="1" height="46" fill="#000" />
<rect x="661" y="393" width="5" height="2" fill="#000" />
<rect x="671" y="380" width="1" height="80" fill="#000" />
<rect x="669" y="393" width="5" height="58" fill="#000" />
<rect x="679" y="438" width="1" height="57" fill="#000" />
<rect x="677" y="448" width="5" height="2" fill="#000" />
<rect x="687" y="397" width="1" height="56" fill="#000" />
<rect x="685" y="413" width="5" height="36" fill="#000" />
<rect x="686" y="414" width="3" height="34" fill="#fff" />
<rect x="695" y="380" width="1" height="55" fill="#000" />
<rect x="693" y="380" width="5" height="35" fill="#000" />
<rect x="694" y="381" width="3" height="33" fill="#fff" />
<rect x="703" y="342" width="1" height="46" fill="#000" />
<rect x="701" y="376" width="5" height="5" fill="#000" />
<rect x="702" y="377" width="3" height="3" fill="#fff" />
<rect x="711" y="360" width="1" height="52" fill="#000" />
<rect x="709" y="376" width="5" height="1" fill="#000" />
<rect x="719" y="370" width="1" height="82" fill="#000" />
<rect x="717" y="377" width="5" height="58" fill="#000" />
<rect x="727" y="414" width="1" height="86" fill="#000" />
<rect x="725" y="433" width="5" height="59" fill="#000" />
<rect x="735" y="473" width="1" height="32" fill="#000" />
<rect x="733" y="481" width="5" height="11" fill="#000" />
<rect x="734" y="482" width="3" height="9" fill="#fff" />
<rect x="743" y="431" width="1" height="59" fill="#000" />
<rect x="741" y="440" width="5" height="42" fill="#000" />
<rect x="742" y="441" width="3" height="40" fill="#fff" />
<rect x="751" y="417" width="1" height="40" fill="#000" />
<rect x="749" y="429" width="5" height="12" fill="#000" />
<rect x="750" y="430" width="3" height="10" fill="#fff" />
<rect x="759" y="399" width="1" height="46" fill="#000" />
<rect x="757" y="423" width="5" height="6" fill="#000" />
<rect x="758" y="424" width="3" height="4" fill="#fff" />
<rect x="767" y="417" width="1" height="50" fill="#000" />
<rect x="765" y="424" width="5" height="18" fill="#000" />
<rect x="775" y="406" width="1" height="42" fill="#000" />
<rect x="773" y="427" width="5" height="16" fill="#000" />
<rect x="774" y="428" width="3" height="14" fill="#fff" />
<rect x="783" y="419" width="1" height="26" fill="#000" />
<rect x="781" y="426" width="5" height="17" fill="#000" />
<rect x="791" y="429" width="1" height="28" fill="#000" />
<rect x="789" y="436" width="5" height="8" fill="#000" />
<rect x="790" y="437" width="3" height="6" fill="#fff" />
<rect x="799" y="417" width="1" height="23" fill="#000" />
<rect x="797" y="422" width="5" height="16" fill="#000" />
<rect x="798" y="423" width="3" height="14" fill="#fff" />
<rect x="807" y="407" width="1" height="51" fill="#000" />
<rect x="805" y="421" width="5" height="12" fill="#000" />
<rect x="815" y="403" width="1" height="107" fill="#000" />
<rect x="813" y="432" width="5" height="68" fill="#000" />
<rect x="823" y="489" width="1" height="72" fill="#000" />
<rect x="821" y="500" width="5" height="61" fill="#000" />
<rect x="831" y="498" width="1" height="21" fill="#000" />
<rect x="829" y="505" width="5" height="13" fill="#000" />
<rect x="830" y="506" width="3" height="11" fill="#fff" />
<rect x="839" y="498" width="1" height="31" fill="#000" />
<rect x="837" y="505" width="5" height="5" fill="#000" />
<rect x="847" y="488" width="1" height="27" fill="#000" />
<rect x="845" y="495" width="5" height="15" fill="#000" />
<rect x="846" y="496" width="3" height="13" fill="#fff" />
<rect x="855" y="436" width="1" height="61" fill="#000" />
<rect x="853" y="441" width="5" height="55" fill="#000" />
<rect x="854" y="442" width="3" height="53" fill="#fff" />
<rect x="863" y="439" width="1" height="53" fill="#000" />
<rect x="861" y="441" width="5" height="16" fill="#000" />
<rect x="871" y="416" width="1" height="43" fill="#000" />
<rect x="869" y="429" width="5" height="28" fill="#000" />
<rect x="870" y="430" width="3" height="26" fill="#fff" />
<rect x="879" y="420" width="1" height="19" fill="#000" />
<rect x="877" y="427" width="5" height="3" fill="#000" />
<rect x="878" y="428" width="3" height="1" fill="#fff" />
<rect x="887" y="393" width="1" height="45" fill="#000" />
<rect x="885" y="395" width="5" height="32" fill="#000" />
<rect x="886" y="396" width="3" height="30" fill="#fff" />
<rect x="895" y="369" width="1" height="29" fill="#000" />
<rect x="893" y="386" width="5" height="9" fill="#000" />
<rect x="894" y="387" width="3" height="7" fill="#fff" />
<rect x="903" y="373" width="1" height="64" fill="#000" />
<rect x="901" y="386" width="5" height="42" fill="#000" />
<rect x="911" y="420" width="1" height="39" fill="#000" />
<rect x="909" y="426" width="5" height="8" fill="#000" />
<rect x="919" y="421" width="1" height="39" fill="#000" />
<rect x="917" y="433" width="5" height="1" fill="#000" />
<rect x="927" y="430" width="1" height="25" fill="#000" />
<rect x="925" y="433" width="5" height="5" fill="#000" />
<rect x="935" y="422" width="1" height="32" fill="#000" />
<rect x="933" y="428" width="5" height="10" fill="#000" />
<rect x="934" y="429" width="3" height="8" fill="#fff" />
<rect x="943" y="423" width="1" height="48" fill="#000" />
<rect x="941" y="428" width="5" height="27" fill="#000" />
<rect x="951" y="429" width="1" height="100" fill="#000" />
<rect x="949" y="449" width="5" height="6" fill="#000" />
<rect x="950" y="450" width="3" height="4" fill="#fff" />
<rect x="959" y="422" width="1" height="57" fill="#000" />
<rect x="957" y="425" width="5" height="25" fill="#000" />
<rect x="958" y="426" width="3" height="23" fill="#fff" />
<rect x="967" y="408" width="1" height="31" fill="#000" />
<rect x="965" y="425" width="5" height="7" fill="#000" />
<rect x="975" y="430" width="1" height="52" fill="#000" />
<rect x="973" y="432" width="5" height="25" fill="#000" />
<rect x="983" y="442" width="1" height="25" fill="#000" />
<rect x="981" y="454" width="5" height="7" fill="#000" />
<rect x="991" y="454" width="1" height="34" fill="#000" />
<rect x="989" y="460" width="5" height="28" fill="#000" />
<rect x="999" y="469" width="1" height="43" fill="#000" />
<rect x="997" y="487" width="5" height="14" fill="#000" />
<rect x="1007" y="473" width="1" height="44" fill="#000" />
<rect x="1005" y="487" width="5" height="14" fill="#000" />
<rect x="1006" y="488" width="3" height="12" fill="#fff" />
<rect x="1015" y="455" width="1" height="44" fill="#000" />
<rect x="1013" y="481" width="5" height="7" fill="#000" />
<rect x="1014" y="482" width="3" height="5" fill="#fff" />
<rect x="1023" y="466" width="1" height="20" fill="#000" />
<rect x="1021" y="469" width="5" height="15" fill="#000" />
<rect x="1022" y="470" width="3" height="13" fill="#fff" />
<rect x="1031" y="446" width="1" height="46" fill="#000" />
<rect x="1029" y="453" width="5" height="17" fill="#000" />
<rect x="1030" y="454" width="3" height="15" fill="#fff" />
<rect x="1039" y="451" width="1" height="23" fill="#000" />
<rect x="1037" y="453" width="5" height="9" fill="#000" />
<rect x="1047" y="451" width="1" height="23" fill="#000" />
<rect x="1045" y="456" width="5" height="6" fill="#000" />
<rect x="1046" y="457" width="3" height="4" fill="#fff" />
<rect x="1055" y="437" width="1" height="63" fill="#000" />
<rect x="1053" y="456" width="5" height="12" fill="#000" />
<rect x="1063" y="425" width="1" height="67" fill="#000" />
<rect x="1061" y="437" width="5" height="31" fill="#000" />
<rect x="1062" y="438" width="3" height="29" fill="#fff" />
<rect x="1071" y="427" width="1" height="13" fill="#000" />
<rect x="1069" y="427" width="5" height="11" fill="#000" />
<rect x="1070" y="428" width="3" height="9" fill="#fff" />
<rect x="1079" y="419" width="1" height="14" fill="#000" />
<rect x="1077" y="427" width="5" height="3" fill="#000" />
<rect x="1087" y="424" width="1" height="40" fill="#000" />
<rect x="1085" y="429" width="5" height="19" fill="#000" />
<rect x="1095" y="404" width="1" height="47" fill="#000" />
<rect x="1093" y="409" width="5" height="39" fill="#000" />
<rect x="1094" y="410" width="3" height="37" fill="#fff" />
<rect x="1103" y="402" width="1" height="49" fill="#000" />
<rect x="1101" y="409" width="5" height="39" fill="#000" />
<rect x="1111" y="445" width="1" height="37" fill="#000" />
<rect x="1109" y="447" width="5" height="18" fill="#000" />
<rect x="1119" y="457" width="1" height="25" fill="#000" />
<rect x="1117" y="464" width="5" height="2" fill="#000" />
<rect x="1127" y="461" width="1" height="31" fill="#000" />
<rect x="1125" y="464" width="5" height="19" fill="#000" />
<rect x="1135" y="451" width="1" height="36" fill="#000" />
<rect x="1133" y="460" width="5" height="23" fill="#000" />
<rect x="1134" y="461" width="3" height="21" fill="#fff" />
<rect x="1143" y="427" width="1" height="40" fill="#000" />
<rect x="1141" y="430" width="5" height="30" fill="#000" />
<rect x="1142" y="431" width="3" height="28" fill="#fff" />
<rect x="1151" y="418" width="1" height="38" fill="#000" />
<rect x="1149" y="427" width="5" height="4" fill="#000" />
<rect x="1150" y="428" width="3" height="2" fill="#fff" />
<rect x="1159" y="420" width="1" height="27" fill="#000" />
<rect x="1157" y="426" width="5" height="12" fill="#000" />
<rect x="1167" y="426" width="1" height="18" fill="#000" />
<rect x="1165" y="428" width="5" height="10" fill="#000" />
<rect x="1166" y="429" width="3" height="8" fill="#fff" />
<rect x="1175" y="417" width="1" height="17" fill="#000" />
<rect x="1173" y="423" width="5" height="5" fill="#000" />
<rect x="1174" y="424" width="3" height="3" fill="#fff" />
<rect x="1183" y="402" width="1" height="26" fill="#000" />
<rect x="1181" y="408" width="5" height="16" fill="#000" />
<rect x="1182" y="409" width="3" height="14" fill="#fff" />
<rect x="1191" y="380" width="1" height="34" fill="#000" />
<rect x="1189" y="388" width="5" height="21" fill="#000" />
<rect x="1190" y="389" width="3" height="19" fill="#fff" />
<rect x="1199" y="382" width="1" height="57" fill="#000" />
<rect x="1197" y="388" width="5" height="43" fill="#000" />
<rect x="1207" y="380" width="1" height="66" fill="#000" />
<rect x="1205" y="386" width="5" height="45" fill="#000" />
<rect x="1206" y="387" width="3" height="43" fill="#fff" />
<rect x="1215" y="338" width="1" height="50" fill="#000" />
<rect x="1213" y="347" width="5" height="40" fill="#000" />
<rect x="1214" y="348" width="3" height="38" fill="#fff" />
<rect x="1223" y="340" width="1" height="32" fill="#000" />
<rect x="1221" y="348" width="5" height="11" fill="#000" />
<rect x="1231" y="342" width="1" height="30" fill="#000" />
<rect x="1229" y="348" width="5" height="11" fill="#000" />
<rect x="1230" y="349" width="3" height="9" fill="#fff" />
<rect x="1239" y="309" width="1" height="42" fill="#000" />
<rect x="1237" y="330" width="5" height="19" fill="#000" />
<rect x="1238" y="331" width="3" height="17" fill="#fff" />
<rect x="1247" y="235" width="1" height="115" fill="#000" />
<rect x="1245" y="325" width="5" height="6" fill="#000" />
<rect x="1246" y="326" width="3" height="4" fill="#fff" />
<rect x="1255" y="322" width="1" height="48" fill="#000" />
<rect x="1253" y="325" width="5" height="40" fill="#000" />
<rect x="1263" y="334" width="1" height="40" fill="#000" />
<rect x="1261" y="343" width="5" height="22" fill="#000" />
<rect x="1262" y="344" width="3" height="20" fill="#fff" />
<rect x="1271" y="317" width="1" height="51" fill="#000" />
<rect x="1269" y="343" width="5" height="19" fill="#000" />
<rect x="1279" y="335" width="1" height="30" fill="#000" />
<rect x="1277" y="356" width="5" height="6" fill="#000" />
<rect x="1278" y="357" width="3" height="4" fill="#fff" />
<rect x="1287" y="341" width="1" height="66" fill="#000" />
<rect x="1285" y="357" width="5" height="44" fill="#000" />
<rect x="1295" y="394" width="1" height="39" fill="#000" />
<rect x="1293" y="400" width="5" height="8" fill="#000" />
<rect x="1303" y="400" width="1" height="19" fill="#000" />
<rect x="1301" y="407" width="5" height="6" fill="#000" />
<rect x="1311" y="425" width="1" height="32" fill="#000" />
<rect x="1309" y="428" width="5" height="28" fill="#000" />
<rect x="1319" y="437" width="1" height="28" fill="#000" />
<rect x="1317" y="455" width="5" height="4" fill="#000" />
<rect x="1327" y="453" width="1" height="49" fill="#000" />
<rect x="1325" y="458" width="5" height="21" fill="#000" />
<rect x="1335" y="460" width="1" height="52" fill="#000" />
<rect x="1333" y="461" width="5" height="17" fill="#000" />
<rect x="1334" y="462" width="3" height="15" fill="#fff" />
<rect x="1343" y="434" width="1" height="56" fill="#000" />
<rect x="1341" y="461" width="5" height="15" fill="#000" />
<rect x="1351" y="449" width="1" height="43" fill="#000" />
<rect x="1349" y="459" width="5" height="17" fill="#000" />
<rect x="1350" y="460" width="3" height="15" fill="#fff" />
<rect x="1359" y="453" width="1" height="27" fill="#000" />
<rect x="1357" y="457" width="5" height="3" fill="#000" />
<rect x="1358" y="458" width="3" height="1" fill="#fff" />
<rect x="1367" y="450" width="1" height="32" fill="#000" />
<rect x="1365" y="455" width="5" height="3" fill="#000" />
<rect x="1366" y="456" width="3" height="1" fill="#fff" />
<rect x="1375" y="435" width="1" height="26" fill="#000" />
<rect x="1373" y="447" width="5" height="9" fill="#000" />
<rect x="1374" y="448" width="3" height="7" fill="#fff" />
<rect x="1383" y="400" width="1" height="52" fill="#000" />
<rect x="1381" y="411" width="5" height="36" fill="#000" />
<rect x="1382" y="412" width="3" height="34" fill="#fff" />
<rect x="1391" y="380" width="1" height="40" fill="#000" />
<rect x="1389" y="384" width="5" height="35" fill="#000" />
<rect x="1390" y="385" width="3" height="33" fill="#fff" />
<rect x="1399" y="344" width="1" height="43" fill="#000" />
<rect x="1397" y="349" width="5" height="37" fill="#000" />
<rect x="1398" y="350" width="3" height="35" fill="#fff" />
<rect x="1407" y="345" width="1" height="15" fill="#000" />
<rect x="1405" y="349" width="5" height="1" fill="#000" />
</g>
<rect x="7" y="633" width="1" height="56" fill="#c0c0c0" />
<rect x="15" y="633" width="1" height="56" fill="#c0c0c0" />
<rect x="23" y="633" width="1" height="55" fill="#c0c0c0" />
<rect x="31" y="633" width="1" height="54" fill="#c0c0c0" />
<rect x="39" y="633" width="1" height="54" fill="#c0c0c0" />
<rect x="47" y="633" width="1" height="54" fill="#c0c0c0" />
<rect x="55" y="633" width="1" height="55" fill="#c0c0c0" />
<rect x="63" y="633" width="1" height="56" fill="#c0c0c0" />
<rect x="71" y="633" width="1" height="53" fill="#c0c0c0" />
<rect x="79" y="633" width="1" height="49" fill="#c0c0c0" />
<rect x="87" y="633" width="1" height="46" fill="#c0c0c0" />
<rect x="95" y="633" width="1" height="45" fill="#c0c0c0" />
<rect x="103" y="633" width="1" height="40" fill="#c0c0c0" />
<rect x="111" y="633" width="1" height="35" fill="#c0c0c0" />
<rect x="119" y="633" width="1" height="31" fill="#c0c0c0" />
<rect x="127" y="633" width="1" height="26" fill="#c0c0c0" />
<rect x="135" y="633" width="1" height="23" fill="#c0c0c0" />
<rect x="143" y="633" width="1" height="18" fill="#c0c0c0" />
<rect x="151" y="633" width="1" height="13" fill="#c0c0c0" />
<rect x="159" y="633" width="1" height="11" fill="#c0c0c0" />
<rect x="167" y="633" width="1" height="5" fill="#c0c0c0" />
<rect x="175" y="628" width="1" height="6" fill="#c0c0c0" />
<rect x="183" y="623" width="1" height="11" fill="#c0c0c0" />
<rect x="191" y="618" width="1" height="16" fill="#c0c0c0" />
<rect x="199" y="610" width="1" height="24" fill="#c0c0c0" />
<rect x="207" y="603" width="1" height="31" fill="#c0c0c0" />
<rect x="215" y="598" width="1" height="36" fill="#c0c0c0" />
<rect x="223" y="592" width="1" height="42" fill="#c0c0c0" />
<rect x="231" y="588" width="1" height="46" fill="#c0c0c0" />
<rect x="239" y="587" width="1" height="47" fill="#c0c0c0" />
<rect x="247" y="590" width="1" height="44" fill="#c0c0c0" />
<rect x="255" y="593" width="1" height="41" fill="#c0c0c0" />
<rect x="263" y="595" width="1" height="39" fill="#c0c0c0" />
<rect x="271" y="597" width="1" height="37" fill="#c0c0c0" />
<rect x="279" y="598" width="1" height="36" fill="#c0c0c0" />
<rect x="287" y="600" width="1" height="34" fill="#c0c0c0" />
<rect x="295" y="600" width="1" height="34" fill="#c0c0c0" />
<rect x="303" y="599" width="1" height="35" fill="#c0c0c0" />
<rect x="311" y="600" width="1" height="34" fill="#c0c0c0" />
<rect x="319" y="600" width="1" height="34" fill="#c0c0c0" />
<rect x="327" y="615" width="1" height="19" fill="#c0c0c0" />
<rect x="335" y="623" width="1" height="11" fill="#c0c0c0" />
<rect x="343" y="631" width="1" height="3" fill="#c0c0c0" />
<rect x="351" y="633" width="1" height="2" fill="#c0c0c0" />
<rect x="359" y="633" width="1" height="8" fill="#c0c0c0" />
<rect x="367" y="633" width="1" height="10" fill="#c0c0c0" />
<rect x="375" y="633" width="1" height="11" fill="#c0c0c0" />
<rect x="383" y="633" width="1" height="8" fill="#c0c0c0" />
<rect x="391" y="633" width="1" height="5" fill="#c0c0c0" />
<rect x="399" y="633" width="1" height="3" fill="#c0c0c0" />
<rect x="407" y="630" width="1" height="4" fill="#c0c0c0" />
<rect x="415" y="630" width="1" height="4" fill="#c0c0c0" />
<rect x="423" y="633" width="1" height="1" fill="#c0c0c0" />
<rect x="431" y="633" width="1" height="1" fill="#c0c0c0" />
<rect x="439" y="629" width="1" height="5" fill="#c0c0c0" />
<rect x="447" y="627" width="1" height="7" fill="#c0c0c0" />
<rect x="455" y="627" width="1" height="7" fill="#c0c0c0" />
<rect x="463" y="629" width="1" height="5" fill="#c0c0c0" />
<rect x="471" y="628" width="1" height="6" fill="#c0c0c0" />
<rect x="479" y="628" width="1" height="6" fill="#c0c0c0" />
<rect x="487" y="628" width="1" height="6" fill="#c0c0c0" />
<rect x="495" y="628" width="1" height="6" fill="#c0c0c0" />
<rect x="503" y="627" width="1" height="7" fill="#c0c0c0" />
<rect x="511" y="625" width="1" height="9" fill="#c0c0c0" />
<rect x="519" y="628" width="1" height="6" fill="#c0c0c0" />
<rect x="527" y="630" width="1" height="4" fill="#c0c0c0" />
<rect x="535" y="632" width="1" height="2" fill="#c0c0c0" />
<rect x="543" y="633" width="1" height="6" fill="#c0c0c0" />
<rect x="551" y="633" width="1" height="18" fill="#c0c0c0" />
<rect x="559" y="633" width="1" height="36" fill="#c0c0c0" />
<rect x="567" y="633" width="1" height="50" fill="#c0c0c0" />
<rect x="575" y="633" width="1" height="71" fill="#c0c0c0" />
<rect x="583" y="633" width="1" height="87" fill="#c0c0c0" />
<rect x="591" y="633" width="1" height="89" fill="#c0c0c0" />
<rect x="599" y="633" width="1" height="91" fill="#c0c0c0" />
<rect x="607" y="633" width="1" height="94" fill="#c0c0c0" />
<rect x="615" y="633" width="1" height="96" fill="#c0c0c0" />
<rect x="623" y="633" width="1" height="99" fill="#c0c0c0" />
<rect x="631" y="633" width="1" height="100" fill="#c0c0c0" />
<rect x="639" y="633" width="1" height="94" fill="#c0c0c0" />
<rect x="647" y="633" width="1" height="91" fill="#c0c0c0" />
<rect x="655" y="633" width="1" height="95" fill="#c0c0c0" />
<rect x="663" y="633" width="1" height="96" fill="#c0c0c0" />
<rect x="671" y="633" width="1" height="102" fill="#c0c0c0" />
<rect x="679" y="633" width="1" height="106" fill="#c0c0c0" />
<rect x="687" y="633" width="1" height="103" fill="#c0c0c0" />
<rect x="695" y="633" width="1" height="96" fill="#c0c0c0" />
<rect x="703" y="633" width="1" height="88" fill="#c0c0c0" />
<rect x="711" y="633" width="1" height="81" fill="#c0c0c0" />
<rect x="719" y="633" width="1" height="83" fill="#c0c0c0" />
<rect x="727" y="633" width="1" height="90" fill="#c0c0c0" />
<rect x="735" y="633" width="1" height="94" fill="#c0c0c0" />
<rect x="743" y="633" width="1" height="90" fill="#c0c0c0" />
<rect x="751" y="633" width="1" height="85" fill="#c0c0c0" />
<rect x="759" y="633" width="1" height="79" fill="#c0c0c0" />
<rect x="767" y="633" width="1" height="76" fill="#c0c0c0" />
<rect x="775" y="633" width="1" height="71" fill="#c0c0c0" />
<rect x="783" y="633" width="1" height="68" fill="#c0c0c0" />
<rect x="791" y="633" width="1" height="64" fill="#c0c0c0" />
<rect x="799" y="633" width="1" height="58" fill="#c0c0c0" />
<rect x="807" y="633" width="1" height="55" fill="#c0c0c0" />
<rect x="815" y="633" width="1" height="60" fill="#c0c0c0" />
<rect x="823" y="633" width="1" height="71" fill="#c0c0c0" />
<rect x="831" y="633" width="1" height="72" fill="#c0c0c0" />
<rect x="839" y="633" width="1" height="73" fill="#c0c0c0" />
<rect x="847" y="633" width="1" height="70" fill="#c0c0c0" />
<rect x="855" y="633" width="1" height="61" fill="#c0c0c0" />
<rect x="863" y="633" width="1" height="54" fill="#c0c0c0" />
<rect x="871" y="633" width="1" height="45" fill="#c0c0c0" />
<rect x="879" y="633" width="1" height="38" fill="#c0c0c0" />
<rect x="887" y="633" width="1" height="27" fill="#c0c0c0" />
<rect x="895" y="633" width="1" height="17" fill="#c0c0c0" />
<rect x="903" y="633" width="1" height="14" fill="#c0c0c0" />
<rect x="911" y="633" width="1" height="13" fill="#c0c0c0" />
<rect x="919" y="633" width="1" height="12" fill="#c0c0c0" />
<rect x="927" y="633" width="1" height="11" fill="#c0c0c0" />
<rect x="935" y="633" width="1" height="9" fill="#c0c0c0" />
<rect x="943" y="633" width="1" height="11" fill="#c0c0c0" />
<rect x="951" y="633" width="1" height="12" fill="#c0c0c0" />
<rect x="959" y="633" width="1" height="9" fill="#c0c0c0" />
<rect x="967" y="633" width="1" height="8" fill="#c0c0c0" />
<rect x="975" y="633" width="1" height="10" fill="#c0c0c0" />
<rect x="983" y="633" width="1" height="12" fill="#c0c0c0" />
<rect x="991" y="633" width="1" height="17" fill="#c0c0c0" />
<rect x="999" y="633" width="1" height="22" fill="#c0c0c0" />
<rect x="1007" y="633" width="1" height="25" fill="#c0c0c0" />
<rect x="1015" y="633" width="1" height="26" fill="#c0c0c0" />
<rect x="1023" y="633" width="1" height="23" fill="#c0c0c0" />
<rect x="1031" y="633" width="1" height="21" fill="#c0c0c0" />
<rect x="1039" y="633" width="1" height="19" fill="#c0c0c0" />
<rect x="1047" y="633" width="1" height="17" fill="#c0c0c0" />
<rect x="1055" y="633" width="1" height="16" fill="#c0c0c0" />
<rect x="1063" y="633" width="1" height="12" fill="#c0c0c0" />
<rect x="1071" y="633" width="1" height="7" fill="#c0c0c0" />
<rect x="1079" y="633" width="1" height="3" fill="#c0c0c0" />
<rect x="1087" y="633" width="1" height="3" fill="#c0c0c0" />
<rect x="1095" y="630" width="1" height="4" fill="#c0c0c0" />
<rect x="1103" y="631" width="1" height="3" fill="#c0c0c0" />
<rect x="1111" y="633" width="1" height="1" fill="#c0c0c0" />
<rect x="1119" y="633" width="1" height="3" fill="#c0c0c0" />
<rect x="1127" y="633" width="1" height="7" fill="#c0c0c0" />
<rect x="1135" y="633" width="1" height="7" fill="#c0c0c0" />
<rect x="1143" y="633" width="1" height="3" fill="#c0c0c0" />
<rect x="1151" y="633" width="1" height="1" fill="#c0c0c0" />
<rect x="1159" y="632" width="1" height="2" fill="#c0c0c0" />
<rect x="1167" y="630" width="1" height="4" fill="#c0c0c0" />
<rect x="1175" y="628" width="1" height="6" fill="#c0c0c0" />
<rect x="1183" y="623" width="1" height="11" fill="#c0c0c0" />
<rect x="1191" y="618" width="1" height="16" fill="#c0c0c0" />
<rect x="1199" y="620" width="1" height="14" fill="#c0c0c0" />
<rect x="1207" y="615" width="1" height="19" fill="#c0c0c0" />
<rect x="1215" y="607" width="1" height="27" fill="#c0c0c0" />
<rect x="1223" y="602" width="1" height="32" fill="#c0c0c0" />
<rect x="1231" y="597" width="1" height="37" fill="#c0c0c0" />
<rect x="1239" y="592" width="1" height="42" fill="#c0c0c0" />
<rect x="1247" y="587" width="1" height="47" fill="#c0c0c0" />
<rect x="1255" y="589" width="1" height="45" fill="#c0c0c0" />
<rect x="1263" y="588" width="1" height="46" fill="#c0c0c0" />
<rect x="1271" y="591" width="1" height="43" fill="#c0c0c0" />
<rect x="1279" y="595" width="1" height="39" fill="#c0c0c0" />
<rect x="1287" y="605" width="1" height="29" fill="#c0c0c0" />
<rect x="1295" y="612" width="1" height="22" fill="#c0c0c0" />
<rect x="1303" y="618" width="1" height="16" fill="#c0c0c0" />
<rect x="1311" y="626" width="1" height="8" fill="#c0c0c0" />
<rect x="1319" y="632" width="1" height="2" fill="#c0c0c0" />
<rect x="1327" y="633" width="1" height="11" fill="#c0c0c0" />
<rect x="1335" y="633" width="1" height="15" fill="#c0c0c0" />
<rect x="1343" y="633" width="1" height="20" fill="#c0c0c0" />
<rect x="1351" y="633" width="1" height="23" fill="#c0c0c0" />
<rect x="1359" y="633" width="1" height="25" fill="#c0c0c0" />
<rect x="1367" y="633" width="1" height="23" fill="#c0c0c0" />
<rect x="1375" y="633" width="1" height="20" fill="#c0c0c0" />
<rect x="1383" y="633" width="1" height="14" fill="#c0c0c0" />
<rect x="1391" y="633" width="1" height="9" fill="#c0c0c0" />
<rect x="1399" y="633" width="1" height="2" fill="#c0c0c0" />
<rect x="1407" y="624" width="1" height="10" fill="#c0c0c0" />
<path d="M0 702h1v1h-1zM1 701h2v1h-2zM6 699h1v1h-1zM7 698h2v1h-2zM12 696h2v1h-2zM14 695h1v1h-1zM18 694h3v1h-3zM24 693h3v1h-3zM30 692h3v1h-3zM36 691h2v1h-2zM38 690h1v1h-1zM42 689h3v1h-3zM48 688h3v1h-3zM54 687h3v1h-3zM60 687h3v1h-3zM66 687h3v1h-3zM72 687h3v1h-3zM78 686h3v1h-3zM84 685h3v1h-3zM90 685h2v1h-2zM92 684h1v1h-1zM96 684h2v1h-2zM98 683h1v1h-1zM102 682h3v1h-3zM108 681h2v1h-2zM110 680h1v1h-1zM114 679h2v1h-2zM116 678h1v1h-1zM120 677h1v1h-1zM121 676h2v1h-2zM126 674h3v1h-3zM132 672h2v1h-2zM134 671h1v1h-1zM138 670h1v1h-1zM139 669h2v1h-2zM144 667h1v1h-1zM145 666h2v1h-2zM150 664h1v1h-1zM151 663h2v1h-2zM156 661h1v1h-1zM157 660h2v1h-2zM162 658h1v1h-1zM163 657h2v1h-2zM168 654h2v1h-2zM170 653h1v1h-1zM174 651h1v1h-1zM175 650h1v1h-1zM176 649h1v1h-1zM180 647h1v1h-1zM181 646h2v1h-2zM186 643h2v1h-2zM188 642h1v1h-1zM192 639h2v1h-2zM194 638h1v1h-1zM198 635h1v1h-1zM199 634h1v1h-1zM200 633h1v1h-1zM204 631h1v1h-1zM205 630h2v1h-2zM210 627h1v1h-1zM211 626h1v1h-1zM212 625h1v1h-1zM216 622h2v1h-2zM218 621h1v1h-1zM222 618h1v1h-1zM223 617h1v1h-1zM224 616h1v1h-1zM228 613h1v1h-1zM229 612h1v1h-1zM230 611h1v1h-1zM234 608h1v1h-1zM235 607h1v1h-1zM236 606h1v1h-1zM240 604h1v1h-1zM241 603h2v1h-2zM246 601h1v1h-1zM247 600h2v1h-2zM252 598h2v1h-2zM254 597h1v1h-1zM258 596h1v1h-1zM259 595h2v1h-2zM264 593h3v1h-3zM270 592h3v1h-3zM276 591h3v1h-3zM282 591h2v1h-2zM284 592h1v1h-1zM288 592h3v1h-3zM294 593h3v1h-3zM300 594h3v1h-3zM306 595h3v1h-3zM312 596h3v1h-3zM318 597h3v1h-3zM324 598h2v1h-2zM326 599h1v1h-1zM330 600h2v1h-2zM332 601h1v1h-1zM336 602h1v1h-1zM337 603h2v1h-2zM342 605h2v1h-2zM344 606h1v1h-1zM348 608h1v1h-1zM349 609h2v1h-2zM354 612h2v1h-2zM356 613h1v1h-1zM360 616h2v1h-2zM362 617h1v1h-1zM366 619h1v1h-1zM367 620h2v1h-2zM372 622h1v1h-1zM373 623h2v1h-2zM378 626h2v1h-2zM380 627h1v1h-1zM384 630h2v1h-2zM386 631h1v1h-1zM390 633h1v1h-1zM391 634h2v1h-2zM396 635h2v1h-2zM398 636h1v1h-1zM402 636h2v1h-2zM404 637h1v1h-1zM408 637h3v1h-3zM414 637h3v1h-3zM420 636h3v1h-3zM426 636h2v1h-2zM428 635h1v1h-1zM432 635h2v1h-2zM434 634h1v1h-1zM438 633h3v1h-3zM444 632h3v1h-3zM450 631h3v1h-3zM456 630h3v1h-3zM462 629h3v1h-3zM468 629h3v1h-3zM474 629h2v1h-2zM476 628h1v1h-1zM480 628h3v1h-3zM486 628h3v1h-3zM492 628h3v1h-3zM498 628h2v1h-2zM500 627h1v1h-1zM504 627h3v1h-3zM510 627h3v1h-3zM516 627h3v1h-3zM522 627h3v1h-3zM528 627h3v1h-3zM534 627h3v1h-3zM540 628h3v1h-3zM546 629h2v1h-2zM548 630h1v1h-1zM552 631h1v1h-1zM553 632h2v1h-2zM558 634h2v1h-2zM560 635h1v1h-1zM564 638h1v1h-1zM565 639h1v1h-1zM566 640h1v1h-1zM570 644h1v1h-1zM571 645h1v2h-1zM575 650h1v1h-1zM576 651h1v1h-1zM577 652h1v1h-1zM580 656h1v1h-1zM581 657h1v2h-1zM584 662h1v1h-1zM585 663h1v1h-1zM586 664h1v1h-1zM588 668h1v1h-1zM589 669h1v1h-1zM590 670h1v1h-1zM593 674h1v2h-1zM594 676h1v1h-1zM597 680h1v1h-1zM598 681h1v1h-1zM599 682h1v1h-1zM602 686h1v1h-1zM603 687h1v1h-1zM604 688h1v1h-1zM607 692h1v1h-1zM608 693h1v1h-1zM609 694h1v1h-1zM612 698h1v1h-1zM613 699h1v2h-1zM617 704h1v1h-1zM618 705h1v1h-1zM619 706h1v1h-1zM623 710h1v1h-1zM624 711h1v1h-1zM625 712h1v1h-1zM628 716h1v1h-1zM629 717h1v1h-1zM630 718h1v1h-1zM634 720h1v1h-1zM635 721h2v1h-2zM640 723h1v1h-1zM641 724h2v1h-2zM646 726h3v1h-3zM652 727h3v1h-3zM658 727h3v1h-3zM664 727h2v1h-2zM666 728h1v1h-1zM670 729h3v1h-3zM676 730h3v1h-3zM682 730h3v1h-3zM688 730h3v1h-3zM694 730h3v1h-3zM700 729h3v1h-3zM706 728h3v1h-3zM712 727h3v1h-3zM718 726h3v1h-3zM724 726h3v1h-3zM730 726h3v1h-3zM736 726h1v1h-1zM737 725h2v1h-2zM742 723h3v1h-3zM748 722h3v1h-3zM754 721h2v1h-2zM756 720h1v1h-1zM760 719h1v1h-1zM761 718h2v1h-2zM766 716h3v1h-3zM772 715h3v1h-3zM778 715h2v1h-2zM780 714h1v1h-1zM784 714h2v1h-2zM786 713h1v1h-1zM790 712h3v1h-3zM796 710h1v1h-1zM797 709h2v1h-2zM802 707h1v1h-1zM803 706h2v1h-2zM808 704h1v1h-1zM809 703h2v1h-2zM814 701h1v1h-1zM815 700h2v1h-2zM820 699h3v1h-3zM826 699h2v1h-2zM828 698h1v1h-1zM832 698h3v1h-3zM838 698h3v1h-3zM844 698h3v1h-3zM850 698h2v1h-2zM852 697h1v1h-1zM856 697h2v1h-2zM858 696h1v1h-1zM862 695h3v1h-3zM868 694h3v1h-3zM874 694h2v1h-2zM876 693h1v1h-1zM880 693h1v1h-1zM881 692h2v1h-2zM886 690h1v1h-1zM887 689h1v1h-1zM888 688h1v1h-1zM892 685h1v1h-1zM893 684h1v1h-1zM894 683h1v1h-1zM898 679h2v1h-2zM900 678h1v1h-1zM904 674h1v1h-1zM905 673h1v1h-1zM906 672h1v1h-1zM910 669h1v1h-1zM911 668h1v1h-1zM912 667h1v1h-1zM916 664h2v1h-2zM918 663h1v1h-1zM922 661h1v1h-1zM923 660h2v1h-2zM928 657h2v1h-2zM930 656h1v1h-1zM934 654h1v1h-1zM935 653h2v1h-2zM940 651h1v1h-1zM941 650h2v1h-2zM946 648h2v1h-2zM948 647h1v1h-1zM952 646h2v1h-2zM954 645h1v1h-1zM958 644h3v1h-3zM964 643h3v1h-3zM970 643h3v1h-3zM976 643h3v1h-3zM982 643h3v1h-3zM988 643h3v1h-3zM994 643h2v1h-2zM996 644h1v1h-1zM1000 644h3v1h-3zM1006 645h3v1h-3zM1012 647h2v1h-2zM1014 648h1v1h-1zM1018 648h2v1h-2zM1020 649h1v1h-1zM1024 649h2v1h-2zM1026 650h1v1h-1zM1030 651h3v1h-3zM1036 652h3v1h-3zM1042 652h3v1h-3zM1048 652h3v1h-3zM1054 653h3v1h-3zM1060 652h3v1h-3zM1066 652h2v1h-2zM1068 651h1v1h-1zM1072 651h1v1h-1zM1073 650h2v1h-2zM1078 648h3v1h-3zM1084 647h2v1h-2zM1086 646h1v1h-1zM1090 645h2v1h-2zM1092 644h1v1h-1zM1096 643h1v1h-1zM1097 642h2v1h-2zM1102 640h3v1h-3zM1108 639h2v1h-2zM1110 638h1v1h-1zM1114 637h3v1h-3zM1120 636h3v1h-3zM1126 635h3v1h-3zM1132 635h3v1h-3zM1138 635h2v1h-2zM1140 634h1v1h-1zM1144 634h3v1h-3zM1150 634h3v1h-3zM1156 634h3v1h-3zM1162 634h3v1h-3zM1168 634h3v1h-3zM1174 633h3v1h-3zM1180 632h3v1h-3zM1186 631h3v1h-3zM1192 630h1v1h-1zM1193 629h2v1h-2zM1198 627h3v1h-3zM1204 625h2v1h-2zM1206 624h1v1h-1zM1210 623h1v1h-1zM1211 622h2v1h-2zM1216 620h1v1h-1zM1217 619h2v1h-2zM1222 617h3v1h-3zM1228 615h1v1h-1zM1229 614h2v1h-2zM1234 612h1v1h-1zM1235 611h2v1h-2zM1240 609h1v1h-1zM1241 608h2v1h-2zM1246 606h1v1h-1zM1247 605h2v1h-2zM1252 603h2v1h-2zM1254 602h1v1h-1zM1258 601h1v1h-1zM1259 600h2v1h-2zM1264 598h1v1h-1zM1265 597h2v1h-2zM1270 595h3v1h-3zM1276 593h2v1h-2zM1278 592h1v1h-1zM1282 592h3v1h-3zM1288 592h3v1h-3zM1294 593h3v1h-3zM1300 594h2v1h-2zM1302 595h1v1h-1zM1306 596h2v1h-2zM1308 597h1v1h-1zM1312 599h2v1h-2zM1314 600h1v1h-1zM1318 602h1v1h-1zM1319 603h1v1h-1zM1320 604h1v1h-1zM1324 607h2v1h-2zM1326 608h1v1h-1zM1330 611h1v1h-1zM1331 612h1v1h-1zM1332 613h1v1h-1zM1336 616h1v1h-1zM1337 617h1v1h-1zM1338 618h1v1h-1zM1342 621h1v1h-1zM1343 622h1v1h-1zM1344 623h1v1h-1zM1348 626h1v1h-1zM1349 627h1v1h-1zM1350 628h1v1h-1zM1354 632h2v1h-2zM1356 633h1v1h-1zM1360 637h2v1h-2zM1362 638h1v1h-1zM1366 641h1v1h-1zM1367 642h1v1h-1zM1368 643h1v1h-1zM1372 645h1v1h-1zM1373 646h2v1h-2zM1378 648h2v1h-2zM1380 649h1v1h-1zM1384 650h2v1h-2zM1386 651h1v1h-1zM1390 652h3v1h-3zM1396 652h3v1h-3zM1402 651h1v1h-1zM1403 650h2v1h-2z" fill="#ff0000"/>
<line x1="2" y1="784.5" x2="1650" y2="784.5" stroke="#c0c0c0" stroke-width="1" stroke-dasharray="3 3"/>
<line x1="2" y1="835.5" x2="1650" y2="835.5" stroke="#c0c0c0" stroke-width="1" stroke-dasharray="3 3"/>
<line x1="2" y1="896.5" x2="1650" y2="896.5" stroke="#c0c0c0" stroke-width="1" stroke-dasharray="3 3"/>
<path d="M0 841h1v2h-1zM1 843h1v2h-1zM2 845h1v2h-1zM3 847h1v2h-1zM4 849h1v2h-1zM5 851h1v2h-1zM6 853h1v2h-1zM7 855h1v2h-1zM8 856h1v1h-1zM9 855h3v1h-3zM12 854h2v1h-2zM14 853h4v1h-4zM18 852h4v1h-4zM22 851h4v1h-4zM26 852h4v1h-4zM30 853h6v1h-6zM36 854h6v1h-6zM42 855h4v1h-4zM46 856h3v1h-3zM49 857h3v1h-3zM52 858h2v1h-2zM54 859h6v1h-6zM60 860h4v1h-4zM64 859h1v1h-1zM65 858h1v1h-1zM66 857h1v1h-1zM67 855h1v2h-1zM68 854h1v1h-1zM69 853h1v1h-1zM70 852h1v1h-1zM71 851h5v1h-5zM76 850h5v1h-5zM81 849h3v1h-3zM84 848h2v1h-2zM86 847h3v1h-3zM89 848h2v1h-2zM91 849h2v1h-2zM93 850h2v1h-2zM95 851h1v1h-1zM96 850h1v1h-1zM97 849h1v1h-1zM98 848h1v1h-1zM99 846h1v2h-1zM100 845h1v1h-1zM101 844h1v1h-1zM102 843h1v1h-1zM103 842h3v1h-3zM106 841h4v1h-4zM110 840h6v1h-6zM116 841h5v1h-5zM121 840h2v1h-2zM123 839h2v1h-2zM125 838h2v1h-2zM127 837h9v1h-9zM136 836h2v1h-2zM138 835h2v1h-2zM140 834h1v1h-1zM141 833h2v1h-2zM143 832h2v1h-2zM145 831h2v1h-2zM147 830h2v1h-2zM149 829h2v1h-2zM151 828h1v1h-1zM152 829h1v1h-1zM153 830h1v1h-1zM154 831h2v1h-2zM156 832h1v1h-1zM157 833h1v1h-1zM158 834h1v1h-1zM159 835h1v1h-1zM160 833h1v2h-1zM161 831h1v2h-1zM162 830h1v1h-1zM163 828h1v2h-1zM164 827h1v1h-1zM165 825h1v2h-1zM166 823h1v2h-1zM167 822h1v1h-1zM168 820h1v2h-1zM169 818h1v2h-1zM170 817h1v1h-1zM171 815h1v2h-1zM172 814h1v1h-1zM173 812h1v2h-1zM174 810h1v2h-1zM175 809h1v1h-1zM176 810h1v1h-1zM177 811h1v2h-1zM178 813h1v1h-1zM179 814h1v1h-1zM180 815h1v1h-1zM181 816h1v2h-1zM182 818h1v1h-1zM183 819h1v1h-1zM184 818h2v1h-2zM186 817h2v1h-2zM188 816h1v1h-1zM189 815h2v1h-2zM191 814h1v1h-1zM192 813h2v1h-2zM194 812h1v1h-1zM195 811h1v1h-1zM196 810h2v1h-2zM198 809h1v1h-1zM199 808h1v1h-1zM200 807h2v1h-2zM202 806h2v1h-2zM204 805h1v1h-1zM205 804h2v1h-2zM207 803h1v1h-1zM208 804h1v1h-1zM209 805h1v1h-1zM210 806h2v1h-2zM212 807h1v1h-1zM213 808h1v1h-1zM214 809h1v1h-1zM215 810h1v1h-1zM216 809h1v1h-1zM217 808h1v1h-1zM218 807h1v1h-1zM219 806h1v1h-1zM220 805h1v1h-1zM221 804h1v1h-1zM222 803h1v1h-1zM223 802h1v1h-1zM224 803h2v1h-2zM226 804h2v1h-2zM228 805h1v1h-1zM229 806h2v1h-2zM231 807h1v1h-1zM232 808h1v1h-1zM233 809h1v1h-1zM234 810h2v1h-2zM236 811h1v1h-1zM237 812h1v1h-1zM238 813h1v1h-1zM239 814h1v1h-1zM240 815h1v2h-1zM241 817h1v1h-1zM242 818h1v2h-1zM243 820h1v1h-1zM244 821h1v2h-1zM245 823h1v1h-1zM246 824h1v2h-1zM247 826h2v1h-2zM249 825h2v1h-2zM251 824h2v1h-2zM253 823h2v1h-2zM255 822h2v1h-2zM257 823h3v1h-3zM260 824h2v1h-2zM262 825h3v1h-3zM265 824h3v1h-3zM268 823h2v1h-2zM270 822h4v1h-4zM274 823h4v1h-4zM278 824h10v1h-10zM288 823h1v1h-1zM289 822h1v1h-1zM290 821h2v1h-2zM292 820h1v1h-1zM293 819h1v1h-1zM294 818h1v1h-1zM295 817h3v1h-3zM298 816h4v1h-4zM302 815h4v1h-4zM306 816h4v1h-4zM310 817h4v1h-4zM314 816h4v1h-4zM318 815h2v1h-2zM319 816h1v2h-1zM320 818h1v5h-1zM321 823h1v6h-1zM322 829h1v5h-1zM323 834h1v5h-1zM324 839h1v5h-1zM325 844h1v6h-1zM326 850h1v5h-1zM327 855h1v3h-1zM328 856h2v1h-2zM330 855h1v1h-1zM331 854h1v1h-1zM332 853h2v1h-2zM334 852h1v1h-1zM335 851h3v1h-3zM338 852h4v1h-4zM342 853h2v1h-2zM344 852h2v1h-2zM346 851h2v1h-2zM348 850h1v1h-1zM349 849h2v1h-2zM351 848h5v1h-5zM356 849h5v1h-5zM361 848h3v1h-3zM364 847h2v1h-2zM366 846h6v1h-6zM372 845h4v1h-4zM376 843h1v2h-1zM377 841h1v2h-1zM378 839h1v2h-1zM379 838h1v1h-1zM380 836h1v2h-1zM381 834h1v2h-1zM382 832h1v2h-1zM383 831h2v1h-2zM385 830h3v1h-3zM388 829h2v1h-2zM390 828h3v1h-3zM393 829h3v1h-3zM396 830h2v1h-2zM398 831h2v1h-2zM400 829h1v2h-1zM401 827h1v2h-1zM402 826h1v1h-1zM403 824h1v2h-1zM404 823h1v1h-1zM405 821h1v2h-1zM406 819h2v1h-2zM406 820h1v1h-1zM407 818h1v1h-1zM408 820h1v2h-1zM409 822h1v2h-1zM410 824h1v2h-1zM411 826h1v3h-1zM412 829h1v2h-1zM413 831h1v2h-1zM414 833h1v2h-1zM415 835h1v2h-1zM416 836h1v1h-1zM417 837h2v1h-2zM419 838h2v1h-2zM421 839h2v1h-2zM423 840h1v1h-1zM424 839h2v1h-2zM426 838h2v1h-2zM428 837h1v1h-1zM429 836h2v1h-2zM431 835h1v1h-1zM432 834h1v1h-1zM433 833h1v1h-1zM434 832h1v1h-1zM435 831h1v1h-1zM436 830h1v1h-1zM437 829h1v1h-1zM438 828h1v1h-1zM439 827h5v1h-5zM444 826h5v1h-5zM449 827h2v1h-2zM451 828h2v1h-2zM453 829h2v1h-2zM455 830h1v1h-1zM456 831h1v1h-1zM457 832h1v1h-1zM458 833h1v1h-1zM459 834h1v2h-1zM460 836h1v1h-1zM461 837h1v1h-1zM462 838h1v1h-1zM463 839h1v1h-1zM464 838h2v1h-2zM466 837h2v1h-2zM468 836h1v1h-1zM469 835h2v1h-2zM471 834h2v1h-2zM473 833h2v1h-2zM475 832h2v1h-2zM477 831h2v1h-2zM479 830h2v1h-2zM481 831h3v1h-3zM484 832h2v1h-2zM486 833h6v1h-6zM492 832h4v1h-4zM496 831h2v1h-2zM498 830h1v1h-1zM499 829h1v1h-1zM500 828h2v1h-2zM502 827h1v1h-1zM503 826h5v1h-5zM508 825h4v1h-4zM512 826h1v2h-1zM513 828h1v2h-1zM514 830h1v2h-1zM515 832h1v2h-1zM516 834h1v2h-1zM517 836h1v2h-1zM518 838h1v2h-1zM519 840h5v1h-5zM524 841h6v1h-6zM530 840h4v1h-4zM534 839h2v1h-2zM535 840h1v1h-1zM536 841h1v2h-1zM537 843h1v2h-1zM538 845h1v2h-1zM539 847h1v2h-1zM540 849h1v2h-1zM541 851h1v2h-1zM542 853h1v2h-1zM543 855h1v2h-1zM544 857h1v2h-1zM545 859h1v2h-1zM546 861h1v2h-1zM547 863h1v2h-1zM548 865h1v2h-1zM549 867h1v2h-1zM550 869h1v2h-1zM551 871h1v1h-1zM552 872h1v1h-1zM553 873h1v2h-1zM554 875h1v1h-1zM555 876h1v1h-1zM556 877h1v1h-1zM557 878h1v2h-1zM558 880h1v1h-1zM559 881h5v1h-5zM564 882h4v1h-4zM568 883h1v1h-1zM569 884h1v1h-1zM570 885h1v1h-1zM571 886h1v2h-1zM572 888h1v1h-1zM573 889h1v1h-1zM574 890h1v1h-1zM575 891h9v1h-9zM583 890h1v1h-1zM584 886h1v4h-1zM585 883h1v3h-1zM586 880h1v3h-1zM587 876h1v4h-1zM588 873h1v3h-1zM589 870h1v3h-1zM590 866h1v4h-1zM591 864h3v1h-3zM591 865h1v1h-1zM594 865h4v1h-4zM598 866h4v1h-4zM602 867h4v1h-4zM606 868h6v1h-6zM612 869h5v1h-5zM617 870h2v1h-2zM619 871h2v1h-2zM621 872h2v1h-2zM623 873h2v1h-2zM625 872h3v1h-3zM628 871h2v1h-2zM630 870h2v1h-2zM632 868h1v2h-1zM633 866h1v2h-1zM634 865h1v1h-1zM635 863h1v2h-1zM636 862h1v1h-1zM637 860h1v2h-1zM638 858h1v2h-1zM639 857h3v1h-3zM642 858h4v1h-4zM646 859h2v1h-2zM648 860h1v1h-1zM649 861h1v2h-1zM650 863h1v1h-1zM651 864h1v1h-1zM652 865h1v1h-1zM653 866h1v2h-1zM654 868h1v1h-1zM655 869h9v1h-9zM664 870h1v1h-1zM665 871h1v1h-1zM666 872h1v1h-1zM667 873h1v1h-1zM668 874h1v1h-1zM669 875h1v1h-1zM670 876h1v1h-1zM671 877h5v1h-5zM676 876h4v1h-4zM680 874h1v2h-1zM681 872h1v2h-1zM682 871h1v1h-1zM683 869h1v2h-1zM684 868h1v1h-1zM685 866h1v2h-1zM686 864h1v2h-1zM687 863h1v1h-1zM688 861h1v2h-1zM689 860h1v1h-1zM690 859h1v1h-1zM691 857h1v2h-1zM692 856h1v1h-1zM693 855h1v1h-1zM694 853h1v2h-1zM695 852h5v1h-5zM700 851h12v1h-12zM712 852h1v2h-1zM713 854h1v1h-1zM714 855h1v1h-1zM715 856h1v2h-1zM716 858h1v1h-1zM717 859h1v1h-1zM718 860h1v2h-1zM719 862h1v1h-1zM720 863h1v1h-1zM721 864h1v2h-1zM722 866h1v1h-1zM723 867h1v1h-1zM724 868h1v1h-1zM725 869h1v2h-1zM726 871h1v1h-1zM727 872h2v1h-2zM729 871h2v1h-2zM731 870h2v1h-2zM733 869h2v1h-2zM735 868h1v1h-1zM736 866h1v2h-1zM737 864h1v2h-1zM738 863h1v1h-1zM739 861h1v2h-1zM740 860h1v1h-1zM741 858h1v2h-1zM742 856h1v2h-1zM743 855h2v1h-2zM745 854h3v1h-3zM748 853h2v1h-2zM750 852h4v1h-4zM754 851h4v1h-4zM758 850h3v1h-3zM761 851h2v1h-2zM763 852h2v1h-2zM765 853h2v1h-2zM767 854h1v1h-1zM768 853h2v1h-2zM770 852h2v1h-2zM772 851h1v1h-1zM773 850h2v1h-2zM775 849h2v1h-2zM777 850h2v1h-2zM779 851h2v1h-2zM781 852h2v1h-2zM783 853h3v1h-3zM786 852h4v1h-4zM790 851h2v1h-2zM792 850h2v1h-2zM794 849h2v1h-2zM796 848h1v1h-1zM797 847h2v1h-2zM799 846h2v1h-2zM801 847h3v1h-3zM804 848h2v1h-2zM806 849h2v1h-2zM808 850h1v2h-1zM809 852h1v2h-1zM810 854h1v2h-1zM811 856h1v2h-1zM812 858h1v2h-1zM813 860h1v2h-1zM814 862h1v2h-1zM815 864h1v1h-1zM816 865h1v1h-1zM817 866h1v1h-1zM818 867h1v1h-1zM819 868h1v2h-1zM820 870h1v1h-1zM821 871h1v1h-1zM822 872h2v1h-2zM823 873h1v1h-1zM824 870h1v2h-1zM825 868h1v2h-1zM826 866h1v2h-1zM827 864h1v2h-1zM828 862h1v2h-1zM829 860h1v2h-1zM830 858h1v2h-1zM831 856h5v1h-5zM831 857h1v1h-1zM836 857h4v1h-4zM840 856h2v1h-2zM842 855h2v1h-2zM844 854h1v1h-1zM845 853h2v1h-2zM847 852h1v1h-1zM848 850h1v2h-1zM849 848h1v2h-1zM850 846h1v2h-1zM851 845h1v1h-1zM852 843h1v2h-1zM853 841h1v2h-1zM854 839h1v2h-1zM855 838h2v1h-2zM857 839h3v1h-3zM860 840h2v1h-2zM862 841h2v1h-2zM864 840h2v1h-2zM866 839h1v1h-1zM867 838h1v1h-1zM868 837h2v1h-2zM870 836h1v1h-1zM871 835h5v1h-5zM876 834h4v1h-4zM880 833h1v1h-1zM881 832h1v1h-1zM882 831h2v1h-2zM884 830h1v1h-1zM885 829h1v1h-1zM886 828h1v1h-1zM887 827h3v1h-3zM890 826h4v1h-4zM894 825h2v1h-2zM896 826h1v2h-1zM897 828h1v1h-1zM898 829h1v1h-1zM899 830h1v2h-1zM900 832h1v1h-1zM901 833h1v1h-1zM902 834h1v2h-1zM903 836h5v1h-5zM908 837h14v1h-14zM922 838h4v1h-4zM926 839h3v1h-3zM929 838h3v1h-3zM932 837h2v1h-2zM934 836h2v1h-2zM936 837h1v1h-1zM937 838h1v1h-1zM938 839h2v1h-2zM940 840h1v1h-1zM941 841h1v1h-1zM942 842h1v1h-1zM943 843h5v1h-5zM948 842h4v1h-4zM952 841h1v1h-1zM953 840h1v1h-1zM954 839h1v1h-1zM955 838h1v1h-1zM956 837h1v1h-1zM957 836h1v1h-1zM958 835h1v1h-1zM959 834h3v1h-3zM962 835h4v1h-4zM966 836h2v1h-2zM968 837h1v1h-1zM969 838h1v1h-1zM970 839h1v1h-1zM971 840h1v1h-1zM972 841h1v1h-1zM973 842h1v1h-1zM974 843h1v1h-1zM975 844h5v1h-5zM980 845h4v1h-4zM984 846h1v1h-1zM985 847h1v1h-1zM986 848h1v1h-1zM987 849h1v1h-1zM988 850h1v1h-1zM989 851h1v1h-1zM990 852h1v1h-1zM991 853h2v1h-2zM993 854h3v1h-3zM996 855h2v1h-2zM998 856h2v1h-2zM1000 855h2v1h-2zM1002 854h2v1h-2zM1004 853h1v1h-1zM1005 852h2v1h-2zM1007 851h2v1h-2zM1009 850h2v1h-2zM1011 849h2v1h-2zM1013 848h2v1h-2zM1015 847h2v1h-2zM1017 846h2v1h-2zM1019 845h2v1h-2zM1021 844h2v1h-2zM1023 843h1v1h-1zM1024 842h2v1h-2zM1026 841h1v1h-1zM1027 840h1v1h-1zM1028 839h2v1h-2zM1030 838h1v1h-1zM1031 837h2v1h-2zM1033 838h3v1h-3zM1036 839h2v1h-2zM1038 840h4v1h-4zM1042 839h4v1h-4zM1046 838h3v1h-3zM1049 839h2v1h-2zM1051 840h2v1h-2zM1053 841h2v1h-2zM1055 842h1v1h-1zM1056 840h1v2h-1zM1057 838h1v2h-1zM1058 837h1v1h-1zM1059 835h1v2h-1zM1060 834h1v1h-1zM1061 832h1v2h-1zM1062 830h1v2h-1zM1063 829h2v1h-2zM1065 828h3v1h-3zM1068 827h2v1h-2zM1070 826h6v1h-6zM1076 827h4v1h-4zM1080 828h1v1h-1zM1081 829h1v1h-1zM1082 830h1v1h-1zM1083 831h1v1h-1zM1084 832h1v1h-1zM1085 833h1v1h-1zM1086 834h1v1h-1zM1087 835h1v1h-1zM1088 833h1v2h-1zM1089 831h1v2h-1zM1090 829h1v2h-1zM1091 828h1v1h-1zM1092 826h1v2h-1zM1093 824h1v2h-1zM1094 822h1v2h-1zM1095 821h1v1h-1zM1096 822h1v2h-1zM1097 824h1v2h-1zM1098 826h1v2h-1zM1099 828h1v2h-1zM1100 830h1v2h-1zM1101 832h1v2h-1zM1102 834h1v2h-1zM1103 836h1v1h-1zM1104 837h2v1h-2zM1106 838h1v1h-1zM1107 839h1v1h-1zM1108 840h2v1h-2zM1110 841h1v1h-1zM1111 842h9v1h-9zM1120 843h2v1h-2zM1122 844h1v1h-1zM1123 845h1v1h-1zM1124 846h2v1h-2zM1126 847h1v1h-1zM1127 848h1v1h-1zM1128 847h1v1h-1zM1129 846h1v1h-1zM1130 845h1v1h-1zM1131 843h1v2h-1zM1132 842h1v1h-1zM1133 841h1v1h-1zM1134 840h1v1h-1zM1135 839h1v1h-1zM1136 837h1v2h-1zM1137 836h1v1h-1zM1138 835h1v1h-1zM1139 833h1v2h-1zM1140 832h1v1h-1zM1141 831h1v1h-1zM1142 829h1v2h-1zM1143 828h5v1h-5zM1148 827h5v1h-5zM1153 828h2v1h-2zM1155 829h2v1h-2zM1157 830h2v1h-2zM1159 831h2v1h-2zM1161 830h3v1h-3zM1164 829h2v1h-2zM1166 828h4v1h-4zM1170 827h4v1h-4zM1174 826h2v1h-2zM1176 825h2v1h-2zM1178 824h2v1h-2zM1180 823h1v1h-1zM1181 822h2v1h-2zM1183 821h1v1h-1zM1184 820h1v1h-1zM1185 819h1v1h-1zM1186 818h2v1h-2zM1188 817h1v1h-1zM1189 816h1v1h-1zM1190 815h2v1h-2zM1191 814h1v1h-1zM1192 816h1v2h-1zM1193 818h1v2h-1zM1194 820h1v3h-1zM1195 823h1v2h-1zM1196 825h1v3h-1zM1197 828h1v2h-1zM1198 830h1v2h-1zM1199 832h2v1h-2zM1199 833h1v1h-1zM1200 831h1v1h-1zM1201 829h1v2h-1zM1202 827h1v2h-1zM1203 826h1v1h-1zM1204 824h1v2h-1zM1205 822h1v2h-1zM1206 820h1v2h-1zM1207 819h1v1h-1zM1208 818h1v1h-1zM1209 817h1v1h-1zM1210 816h1v1h-1zM1211 814h1v2h-1zM1212 813h1v1h-1zM1213 812h1v1h-1zM1214 811h1v1h-1zM1215 810h2v1h-2zM1217 811h2v1h-2zM1219 812h2v1h-2zM1221 813h2v1h-2zM1223 814h3v1h-3zM1226 813h4v1h-4zM1230 812h3v1h-3zM1233 811h2v1h-2zM1235 810h2v1h-2zM1237 809h2v1h-2zM1239 808h5v1h-5zM1244 807h4v1h-4zM1247 808h1v1h-1zM1248 809h1v2h-1zM1249 811h1v2h-1zM1250 813h1v2h-1zM1251 815h1v2h-1zM1252 817h1v2h-1zM1253 819h1v2h-1zM1254 821h1v2h-1zM1255 823h1v1h-1zM1256 822h2v1h-2zM1258 821h1v1h-1zM1259 820h1v1h-1zM1260 819h2v1h-2zM1262 818h1v1h-1zM1263 817h1v1h-1zM1264 818h1v1h-1zM1265 819h1v1h-1zM1266 820h2v1h-2zM1268 821h1v1h-1zM1269 822h1v1h-1zM1270 823h1v1h-1zM1271 824h5v1h-5zM1276 823h4v1h-4zM1280 824h1v2h-1zM1281 826h1v2h-1zM1282 828h1v2h-1zM1283 830h1v2h-1zM1284 832h1v2h-1zM1285 834h1v2h-1zM1286 836h1v2h-1zM1287 838h3v1h-3zM1290 839h4v1h-4zM1294 840h6v1h-6zM1300 841h4v1h-4zM1304 842h1v2h-1zM1305 844h1v2h-1zM1306 846h1v1h-1zM1307 847h1v2h-1zM1308 849h1v1h-1zM1309 850h1v2h-1zM1310 852h1v2h-1zM1311 854h9v1h-9zM1320 855h2v1h-2zM1322 856h2v1h-2zM1324 857h1v1h-1zM1325 858h2v1h-2zM1327 859h1v1h-1zM1328 858h1v1h-1zM1329 857h1v1h-1zM1330 856h2v1h-2zM1332 855h1v1h-1zM1333 854h1v1h-1zM1334 853h1v1h-1zM1335 852h2v1h-2zM1337 853h2v1h-2zM1339 854h2v1h-2zM1341 855h2v1h-2zM1343 856h1v1h-1zM1344 855h1v1h-1zM1345 854h1v1h-1zM1346 853h2v1h-2zM1348 852h1v1h-1zM1349 851h1v1h-1zM1350 850h1v1h-1zM1351 849h11v1h-11zM1362 848h4v1h-4zM1366 847h3v1h-3zM1369 846h3v1h-3zM1372 845h2v1h-2zM1374 844h2v1h-2zM1376 842h1v2h-1zM1377 841h1v1h-1zM1378 839h1v2h-1zM1379 838h1v1h-1zM1380 836h1v2h-1zM1381 835h1v1h-1zM1382 833h1v2h-1zM1383 832h1v1h-1zM1384 831h1v1h-1zM1385 829h1v2h-1zM1386 828h1v1h-1zM1387 827h1v1h-1zM1388 826h1v1h-1zM1389 824h1v2h-1zM1390 823h1v1h-1zM1391 822h1v1h-1zM1392 821h1v1h-1zM1393 819h1v2h-1zM1394 818h1v1h-1zM1395 817h1v1h-1zM1396 816h1v1h-1zM1397 814h1v2h-1zM1398 813h1v1h-1zM1399 812h9v1h-9z" fill="#1e90ff"/>
<rect x="0" y="21" width="1651" height="1" fill="#000" />
<rect x="1650" y="21" width="1" height="902" fill="#000" />
<rect x="0" y="574" width="1651" height="1" fill="#000" />
<rect x="0" y="576" width="1651" height="1" fill="#000" />
<rect x="0" y="746" width="1651" height="1" fill="#000" />
<rect x="0" y="748" width="1651" height="1" fill="#000" />
<rect x="0" y="922" width="1651" height="1" fill="#000" />
</g>
<rect x="1385" y="359" width="89" height="9" fill="#00ff00" shape-rendering="crispEdges"/>
<rect x="1176.5" y="226.5" width="61" height="18" fill="#fff" stroke="#ff0000" stroke-width="1" shape-rendering="crispEdges"/>
<text x="1178.4" y="242.1" font-family="'Liberation Serif', serif" font-size="18.0" fill="#ff0000" stroke="#ff0000" stroke-width="0.15" textLength="58.2" lengthAdjust="spacingAndGlyphs">152.621</text>
<rect x="1238" y="235" width="9" height="1" fill="#ff0000" shape-rendering="crispEdges"/>
<rect x="752.5" y="549.5" width="61" height="18" fill="#fff" stroke="#ff0000" stroke-width="1" shape-rendering="crispEdges"/>
<text x="754.3" y="565" font-family="'Liberation Serif', serif" font-size="18.0" fill="#ff0000" stroke="#ff0000" stroke-width="0.15" textLength="59.0" lengthAdjust="spacingAndGlyphs">148.990</text>
<rect x="814" y="558" width="8" height="1" fill="#ff0000" shape-rendering="crispEdges"/>
<rect x="1264.5" y="504.5" width="61" height="18" fill="#fff" stroke="#ff0000" stroke-width="1" shape-rendering="crispEdges"/>
<text x="1266.5" y="520" font-family="'Liberation Serif', serif" font-size="18.0" fill="#ff0000" stroke="#ff0000" stroke-width="0.15" textLength="58.5" lengthAdjust="spacingAndGlyphs">149.504</text>
<rect x="1326" y="513" width="5" height="1" fill="#ff0000" shape-rendering="crispEdges"/>
<rect x="1298.5" y="353.5" width="73" height="24" fill="#fff" stroke="#ff0000" stroke-width="1" shape-rendering="crispEdges"/>
<text x="1299.6" y="374" font-family="'Liberation Serif', serif" font-size="22.4" fill="#ff0000" stroke="#ff0000" stroke-width="0.4" textLength="71.2" lengthAdjust="spacingAndGlyphs">151.164</text>
<rect x="1295.5" y="363.5" width="2" height="3" fill="#fff" stroke="#ff0000" stroke-width="1" shape-rendering="crispEdges"/>
<rect x="1290" y="365" width="5" height="1" fill="#ff0000" shape-rendering="crispEdges"/>
<line x1="1236.5" y1="248.5" x2="1329.5" y2="508.5" stroke="#ff0000" stroke-width="3.4" stroke-linecap="butt"/>
<polygon points="1332.5,517.0 1324.8,510.2 1334.2,506.8" fill="#ff0000"/>
<line x1="1332.5" y1="517.0" x2="1415.5" y2="353.3" stroke="#ff0000" stroke-width="3.4" stroke-linecap="butt"/>
<polygon points="1420.5,343.5 1420.4,355.8 1410.6,350.8" fill="#ff0000"/>
<line x1="1276.0" y1="593.0" x2="1352.9" y2="658.0" stroke="#ff0000" stroke-width="3.2" stroke-linecap="butt"/>
<polygon points="1360.5,664.5 1349.6,661.9 1356.1,654.2" fill="#ff0000"/>
<line x1="1360.5" y1="664.5" x2="1411.3" y2="631.0" stroke="#ff0000" stroke-width="3.2" stroke-linecap="butt"/>
<polygon points="1420.5,625.0 1414.3,635.6 1408.3,626.5" fill="#ff0000"/>
<line x1="1245.0" y1="804.0" x2="1321.9" y2="859.2" stroke="#ff0000" stroke-width="3.2" stroke-linecap="butt"/>
<polygon points="1330.0,865.0 1319.0,863.2 1324.8,855.1" fill="#ff0000"/>
<line x1="1330.0" y1="865.0" x2="1405.7" y2="816.9" stroke="#ff0000" stroke-width="3.2" stroke-linecap="butt"/>
<polygon points="1415.0,811.0 1408.7,821.5 1402.8,812.3" fill="#ff0000"/>
<polygon points="1412,22 1422,22 1417,27" fill="#c0c0c0"/>
<g shape-rendering="crispEdges">
<rect x="1651" y="43" width="2" height="1" fill="#000" />
<rect x="1651" y="76" width="2" height="1" fill="#000" />
<rect x="1651" y="109" width="2" height="1" fill="#000" />
<rect x="1651" y="142" width="2" height="1" fill="#000" />
<rect x="1651" y="175" width="2" height="1" fill="#000" />
<rect x="1651" y="208" width="2" height="1" fill="#000" />
<rect x="1651" y="241" width="2" height="1" fill="#000" />
<rect x="1651" y="274" width="2" height="1" fill="#000" />
<rect x="1651" y="307" width="2" height="1" fill="#000" />
<rect x="1651" y="340" width="2" height="1" fill="#000" />
<rect x="1651" y="373" width="2" height="1" fill="#000" />
<rect x="1651" y="406" width="2" height="1" fill="#000" />
<rect x="1651" y="439" width="2" height="1" fill="#000" />
<rect x="1651" y="472" width="2" height="1" fill="#000" />
<rect x="1651" y="505" width="2" height="1" fill="#000" />
<rect x="1651" y="538" width="2" height="1" fill="#000" />
<rect x="1651" y="571" width="2" height="1" fill="#000" />
<rect x="1651" y="633" width="2" height="1" fill="#000" />
<rect x="1651" y="784" width="2" height="1" fill="#000" />
<rect x="1651" y="835" width="2" height="1" fill="#000" />
<rect x="1651" y="896" width="2" height="1" fill="#000" />
</g>
<text x="1656" y="46.55" font-family="'Liberation Sans', sans-serif" font-size="9" fill="#000" stroke="#000" stroke-width="0.12" text-anchor="start" font-weight="normal" textLength="33" lengthAdjust="spacingAndGlyphs" >154.780</text>
<text x="1656" y="79.55" font-family="'Liberation Sans', sans-serif" font-size="9" fill="#000" stroke="#000" stroke-width="0.12" text-anchor="start" font-weight="normal" textLength="33" lengthAdjust="spacingAndGlyphs" >154.410</text>
<text x="1656" y="112.3" font-family="'Liberation Sans', sans-serif" font-size="9" fill="#000" stroke="#000" stroke-width="0.12" text-anchor="start" font-weight="normal" textLength="33" lengthAdjust="spacingAndGlyphs" >154.040</text>
<text x="1656" y="145.3" font-family="'Liberation Sans', sans-serif" font-size="9" fill="#000" stroke="#000" stroke-width="0.12" text-anchor="start" font-weight="normal" textLength="33" lengthAdjust="spacingAndGlyphs" >153.670</text>
<text x="1656" y="178.3" font-family="'Liberation Sans', sans-serif" font-size="9" fill="#000" stroke="#000" stroke-width="0.12" text-anchor="start" font-weight="normal" textLength="33" lengthAdjust="spacingAndGlyphs" >153.300</text>
<text x="1656" y="211.05" font-family="'Liberation Sans', sans-serif" font-size="9" fill="#000" stroke="#000" stroke-width="0.12" text-anchor="start" font-weight="normal" textLength="33" lengthAdjust="spacingAndGlyphs" >152.930</text>
<text x="1656" y="244.3" font-family="'Liberation Sans', sans-serif" font-size="9" fill="#000" stroke="#000" stroke-width="0.12" text-anchor="start" font-weight="normal" textLength="33" lengthAdjust="spacingAndGlyphs" >152.550</text>
<text x="1656" y="277.3" font-family="'Liberation Sans', sans-serif" font-size="9" fill="#000" stroke="#000" stroke-width="0.12" text-anchor="start" font-weight="normal" textLength="33" lengthAdjust="spacingAndGlyphs" >152.180</text>
<text x="1656" y="310.55" font-family="'Liberation Sans', sans-serif" font-size="9" fill="#000" stroke="#000" stroke-width="0.12" text-anchor="start" font-weight="normal" textLength="33" lengthAdjust="spacingAndGlyphs" >151.810</text>
<text x="1656" y="343.3" font-family="'Liberation Sans', sans-serif" font-size="9" fill="#000" stroke="#000" stroke-width="0.12" text-anchor="start" font-weight="normal" textLength="33" lengthAdjust="spacingAndGlyphs" >151.440</text>
<text x="1656" y="376.3" font-family="'Liberation Sans', sans-serif" font-size="9" fill="#000" stroke="#000" stroke-width="0.12" text-anchor="start" font-weight="normal" textLength="33" lengthAdjust="spacingAndGlyphs" >151.070</text>
<text x="1656" y="409.3" font-family="'Liberation Sans', sans-serif" font-size="9" fill="#000" stroke="#000" stroke-width="0.12" text-anchor="start" font-weight="normal" textLength="33" lengthAdjust="spacingAndGlyphs" >150.700</text>
<text x="1656" y="442.55" font-family="'Liberation Sans', sans-serif" font-size="9" fill="#000" stroke="#000" stroke-width="0.12" text-anchor="start" font-weight="normal" textLength="33" lengthAdjust="spacingAndGlyphs" >150.330</text>
<text x="1656" y="475.55" font-family="'Liberation Sans', sans-serif" font-size="9" fill="#000" stroke="#000" stroke-width="0.12" text-anchor="start" font-weight="normal" textLength="33" lengthAdjust="spacingAndGlyphs" >149.960</text>
<text x="1656" y="508.55" font-family="'Liberation Sans', sans-serif" font-size="9" fill="#000" stroke="#000" stroke-width="0.12" text-anchor="start" font-weight="normal" textLength="33" lengthAdjust="spacingAndGlyphs" >149.590</text>
<text x="1656" y="541.55" font-family="'Liberation Sans', sans-serif" font-size="9" fill="#000" stroke="#000" stroke-width="0.12" text-anchor="start" font-weight="normal" textLength="33" lengthAdjust="spacingAndGlyphs" >149.220</text>
<text x="1656" y="574.55" font-family="'Liberation Sans', sans-serif" font-size="9" fill="#000" stroke="#000" stroke-width="0.12" text-anchor="start" font-weight="normal" textLength="33" lengthAdjust="spacingAndGlyphs" >148.850</text>
<text x="1654.5" y="586.55" font-family="'Liberation Sans', sans-serif" font-size="9" fill="#000" stroke="#000" stroke-width="0.12" text-anchor="start" font-weight="normal" textLength="28" lengthAdjust="spacingAndGlyphs" >0.3795</text>
<text x="1654.5" y="636.55" font-family="'Liberation Sans', sans-serif" font-size="9" fill="#000" stroke="#000" stroke-width="0.12" text-anchor="start" font-weight="normal" textLength="17.5" lengthAdjust="spacingAndGlyphs" >0.00</text>
<text x="1654.5" y="742.55" font-family="'Liberation Sans', sans-serif" font-size="9" fill="#000" stroke="#000" stroke-width="0.12" text-anchor="start" font-weight="normal" textLength="30.5" lengthAdjust="spacingAndGlyphs" >-0.7745</text>
<text x="1654.5" y="758.8" font-family="'Liberation Sans', sans-serif" font-size="9" fill="#000" stroke="#000" stroke-width="0.12" text-anchor="start" font-weight="normal" textLength="14.5" lengthAdjust="spacingAndGlyphs" >100</text>
<text x="1653.5" y="787.55" font-family="'Liberation Sans', sans-serif" font-size="9" fill="#000" stroke="#000" stroke-width="0.12" text-anchor="start" font-weight="normal" textLength="9.5" lengthAdjust="spacingAndGlyphs" >80</text>
<text x="1653.5" y="838.8" font-family="'Liberation Sans', sans-serif" font-size="9" fill="#000" stroke="#000" stroke-width="0.12" text-anchor="start" font-weight="normal" textLength="9.5" lengthAdjust="spacingAndGlyphs" >50</text>
<text x="1653.5" y="900.05" font-family="'Liberation Sans', sans-serif" font-size="9" fill="#000" stroke="#000" stroke-width="0.12" text-anchor="start" font-weight="normal" textLength="9.5" lengthAdjust="spacingAndGlyphs" >15</text>
<text x="1654.5" y="918.8" font-family="'Liberation Sans', sans-serif" font-size="9" fill="#000" stroke="#000" stroke-width="0.12" text-anchor="start" font-weight="normal" >0</text>
<rect x="1645.5" y="289.5" width="4" height="4" fill="#fff" stroke="#ff0000" stroke-width="1" shape-rendering="crispEdges"/>
<rect x="1645.5" y="318.5" width="4" height="4" fill="#fff" stroke="#ff0000" stroke-width="1" shape-rendering="crispEdges"/>
<rect x="1645.5" y="363.5" width="4" height="4" fill="#fff" stroke="#32cd32" stroke-width="1" shape-rendering="crispEdges"/>
<rect x="1645.5" y="391.5" width="4" height="4" fill="#fff" stroke="#0000ff" stroke-width="1" shape-rendering="crispEdges"/>
<rect x="1645.5" y="416.5" width="4" height="4" fill="#fff" stroke="#0000ff" stroke-width="1" shape-rendering="crispEdges"/>
<g shape-rendering="crispEdges">
<rect x="1652" y="286" width="41" height="10" fill="#ff0000" />
</g>
<text x="1656" y="293.9" font-family="'Liberation Sans', sans-serif" font-size="9" fill="#fff" stroke="#fff" stroke-width="0.12" text-anchor="start" font-weight="normal" textLength="33" lengthAdjust="spacingAndGlyphs" >151.993</text>
<g shape-rendering="crispEdges">
<rect x="1652" y="315" width="41" height="10" fill="#ff0000" />
</g>
<text x="1656" y="322.9" font-family="'Liberation Sans', sans-serif" font-size="9" fill="#fff" stroke="#fff" stroke-width="0.12" text-anchor="start" font-weight="normal" textLength="33" lengthAdjust="spacingAndGlyphs" >151.668</text>
<g shape-rendering="crispEdges">
<rect x="1652" y="360" width="41" height="10" fill="#32cd32" />
</g>
<text x="1656" y="367.9" font-family="'Liberation Sans', sans-serif" font-size="9" fill="#fff" stroke="#fff" stroke-width="0.12" text-anchor="start" font-weight="normal" textLength="33" lengthAdjust="spacingAndGlyphs" >151.164</text>
<g shape-rendering="crispEdges">
<rect x="1652" y="388" width="41" height="10" fill="#0000ff" />
</g>
<text x="1656" y="395.9" font-family="'Liberation Sans', sans-serif" font-size="9" fill="#fff" stroke="#fff" stroke-width="0.12" text-anchor="start" font-weight="normal" textLength="33" lengthAdjust="spacingAndGlyphs" >150.850</text>
<g shape-rendering="crispEdges">
<rect x="1652" y="413" width="41" height="10" fill="#0000ff" />
</g>
<text x="1656" y="420.9" font-family="'Liberation Sans', sans-serif" font-size="9" fill="#fff" stroke="#fff" stroke-width="0.12" text-anchor="start" font-weight="normal" textLength="33" lengthAdjust="spacingAndGlyphs" >150.569</text>
<g shape-rendering="crispEdges">
<rect x="1652" y="345" width="41" height="10" fill="#000000" />
</g>
<text x="1656" y="352.9" font-family="'Liberation Sans', sans-serif" font-size="9" fill="#fff" stroke="#fff" stroke-width="0.12" text-anchor="start" font-weight="normal" textLength="33" lengthAdjust="spacingAndGlyphs" >151.347</text>
<g shape-rendering="crispEdges">
<rect x="55" y="923" width="1" height="3" fill="#000" />
<rect x="119" y="923" width="1" height="3" fill="#000" />
<rect x="183" y="923" width="1" height="3" fill="#000" />
<rect x="247" y="923" width="1" height="3" fill="#000" />
<rect x="311" y="923" width="1" height="3" fill="#000" />
<rect x="375" y="923" width="1" height="3" fill="#000" />
<rect x="439" y="923" width="1" height="3" fill="#000" />
<rect x="503" y="923" width="1" height="3" fill="#000" />
<rect x="567" y="923" width="1" height="3" fill="#000" />
<rect x="631" y="923" width="1" height="3" fill="#000" />
<rect x="695" y="923" width="1" height="3" fill="#000" />
<rect x="759" y="923" width="1" height="3" fill="#000" />
<rect x="823" y="923" width="1" height="3" fill="#000" />
<rect x="887" y="923" width="1" height="3" fill="#000" />
<rect x="951" y="923" width="1" height="3" fill="#000" />
<rect x="1015" y="923" width="1" height="3" fill="#000" />
<rect x="1079" y="923" width="1" height="3" fill="#000" />
<rect x="1143" y="923" width="1" height="3" fill="#000" />
<rect x="1207" y="923" width="1" height="3" fill="#000" />
<rect x="1271" y="923" width="1" height="3" fill="#000" />
<rect x="1335" y="923" width="1" height="3" fill="#000" />
<rect x="1399" y="923" width="1" height="3" fill="#000" />
</g>
<text x="54" y="935" font-family="'Liberation Sans', sans-serif" font-size="9" fill="#000" stroke="#000" stroke-width="0.12" text-anchor="start" font-weight="normal" textLength="56.25" lengthAdjust="spacingAndGlyphs" >11 Nov 16:00</text>
<text x="118" y="935" font-family="'Liberation Sans', sans-serif" font-size="9" fill="#000" stroke="#000" stroke-width="0.12" text-anchor="start" font-weight="normal" textLength="56.25" lengthAdjust="spacingAndGlyphs" >15 Nov 00:00</text>
<text x="182" y="935" font-family="'Liberation Sans', sans-serif" font-size="9" fill="#000" stroke="#000" stroke-width="0.12" text-anchor="start" font-weight="normal" textLength="56.25" lengthAdjust="spacingAndGlyphs" >16 Nov 08:00</text>
<text x="246" y="935" font-family="'Liberation Sans', sans-serif" font-size="9" fill="#000" stroke="#000" stroke-width="0.12" text-anchor="start" font-weight="normal" textLength="56.25" lengthAdjust="spacingAndGlyphs" >17 Nov 16:00</text>
<text x="310" y="935" font-family="'Liberation Sans', sans-serif" font-size="9" fill="#000" stroke="#000" stroke-width="0.12" text-anchor="start" font-weight="normal" textLength="56.25" lengthAdjust="spacingAndGlyphs" >19 Nov 00:00</text>
<text x="374" y="935" font-family="'Liberation Sans', sans-serif" font-size="9" fill="#000" stroke="#000" stroke-width="0.12" text-anchor="start" font-weight="normal" textLength="56.25" lengthAdjust="spacingAndGlyphs" >22 Nov 08:00</text>
<text x="438" y="935" font-family="'Liberation Sans', sans-serif" font-size="9" fill="#000" stroke="#000" stroke-width="0.12" text-anchor="start" font-weight="normal" textLength="56.25" lengthAdjust="spacingAndGlyphs" >23 Nov 16:00</text>
<text x="502" y="935" font-family="'Liberation Sans', sans-serif" font-size="9" fill="#000" stroke="#000" stroke-width="0.12" text-anchor="start" font-weight="normal" textLength="56.25" lengthAdjust="spacingAndGlyphs" >25 Nov 00:00</text>
<text x="566" y="935" font-family="'Liberation Sans', sans-serif" font-size="9" fill="#000" stroke="#000" stroke-width="0.12" text-anchor="start" font-weight="normal" textLength="56.25" lengthAdjust="spacingAndGlyphs" >26 Nov 08:00</text>
<text x="630" y="935" font-family="'Liberation Sans', sans-serif" font-size="9" fill="#000" stroke="#000" stroke-width="0.12" text-anchor="start" font-weight="normal" textLength="56.25" lengthAdjust="spacingAndGlyphs" >29 Nov 16:00</text>
<text x="694" y="935" font-family="'Liberation Sans', sans-serif" font-size="9" fill="#000" stroke="#000" stroke-width="0.12" text-anchor="start" font-weight="normal" textLength="49.25" lengthAdjust="spacingAndGlyphs" >1 Dec 00:00</text>
<text x="758" y="935" font-family="'Liberation Sans', sans-serif" font-size="9" fill="#000" stroke="#000" stroke-width="0.12" text-anchor="start" font-weight="normal" textLength="49.25" lengthAdjust="spacingAndGlyphs" >2 Dec 08:00</text>
<text x="822" y="935" font-family="'Liberation Sans', sans-serif" font-size="9" fill="#000" stroke="#000" stroke-width="0.12" text-anchor="start" font-weight="normal" textLength="49.25" lengthAdjust="spacingAndGlyphs" >3 Dec 16:00</text>
<text x="886" y="935" font-family="'Liberation Sans', sans-serif" font-size="9" fill="#000" stroke="#000" stroke-width="0.12" text-anchor="start" font-weight="normal" textLength="49.25" lengthAdjust="spacingAndGlyphs" >7 Dec 00:00</text>
<text x="950" y="935" font-family="'Liberation Sans', sans-serif" font-size="9" fill="#000" stroke="#000" stroke-width="0.12" text-anchor="start" font-weight="normal" textLength="49.25" lengthAdjust="spacingAndGlyphs" >8 Dec 08:00</text>
<text x="1014" y="935" font-family="'Liberation Sans', sans-serif" font-size="9" fill="#000" stroke="#000" stroke-width="0.12" text-anchor="start" font-weight="normal" textLength="49.25" lengthAdjust="spacingAndGlyphs" >9 Dec 16:00</text>
<text x="1078" y="935" font-family="'Liberation Sans', sans-serif" font-size="9" fill="#000" stroke="#000" stroke-width="0.12" text-anchor="start" font-weight="normal" textLength="54.5" lengthAdjust="spacingAndGlyphs" >13 Dec 00:00</text>
<text x="1142" y="935" font-family="'Liberation Sans', sans-serif" font-size="9" fill="#000" stroke="#000" stroke-width="0.12" text-anchor="start" font-weight="normal" textLength="54.5" lengthAdjust="spacingAndGlyphs" >14 Dec 08:00</text>
<text x="1206" y="935" font-family="'Liberation Sans', sans-serif" font-size="9" fill="#000" stroke="#000" stroke-width="0.12" text-anchor="start" font-weight="normal" textLength="54.5" lengthAdjust="spacingAndGlyphs" >15 Dec 16:00</text>
<text x="1270" y="935" font-family="'Liberation Sans', sans-serif" font-size="9" fill="#000" stroke="#000" stroke-width="0.12" text-anchor="start" font-weight="normal" textLength="54.5" lengthAdjust="spacingAndGlyphs" >17 Dec 00:00</text>
<text x="1334" y="935" font-family="'Liberation Sans', sans-serif" font-size="9" fill="#000" stroke="#000" stroke-width="0.12" text-anchor="start" font-weight="normal" textLength="54.5" lengthAdjust="spacingAndGlyphs" >20 Dec 08:00</text>
<text x="1398" y="935" font-family="'Liberation Sans', sans-serif" font-size="9" fill="#000" stroke="#000" stroke-width="0.12" text-anchor="start" font-weight="normal" textLength="54.5" lengthAdjust="spacingAndGlyphs" >21 Dec 16:00</text>
<text x="-7.5" y="935" font-family="'Liberation Sans', sans-serif" font-size="9" fill="#000" stroke="#000" stroke-width="0.12" text-anchor="start" font-weight="normal" textLength="52" lengthAdjust="spacingAndGlyphs" >9 Nov 2021</text>
<text x="6.2" y="33" font-family="'Liberation Sans', sans-serif" font-size="9" fill="#000" stroke="#000" stroke-width="0.12" text-anchor="start" font-weight="normal" textLength="199.5" lengthAdjust="spacingAndGlyphs" xml:space="preserve">GBPJPY-,H4  151.338 151.385 151.227 151.347</text>
<text x="-3" y="588.7" font-family="'Liberation Sans', sans-serif" font-size="9" fill="#000" stroke="#000" stroke-width="0.12" text-anchor="start" font-weight="normal" textLength="129" lengthAdjust="spacingAndGlyphs" >MACD(12,26,9) 0.0663 -0.1037</text>
<text x="-7" y="760.7" font-family="'Liberation Sans', sans-serif" font-size="9" fill="#000" stroke="#000" stroke-width="0.12" text-anchor="start" font-weight="normal" textLength="70" lengthAdjust="spacingAndGlyphs" >RSI(14) 63.9507</text>
<defs>
<linearGradient id="gb" x1="0" y1="0" x2="0" y2="1"><stop offset="0" stop-color="#5858ee"/><stop offset="1" stop-color="#3232d6"/></linearGradient>
<linearGradient id="gp" x1="0" y1="0" x2="0" y2="1"><stop offset="0" stop-color="#3030d2"/><stop offset="0.55" stop-color="#1414ba"/><stop offset="1" stop-color="#0000a0"/></linearGradient>
<linearGradient id="gs" x1="0" y1="0" x2="0" y2="1"><stop offset="0" stop-color="#ececec"/><stop offset="0.5" stop-color="#dcdcdc"/><stop offset="0.5" stop-color="#cfcfcf"/><stop offset="1" stop-color="#c4c4c4"/></linearGradient>
<linearGradient id="gp2" gradientUnits="userSpaceOnUse" x1="0" y1="65" x2="0" y2="98"><stop offset="0" stop-color="#3030d2"/><stop offset="0.55" stop-color="#1414ba"/><stop offset="1" stop-color="#0000a0"/></linearGradient>
</defs>
<g shape-rendering="crispEdges">
<rect x="0" y="41" width="213" height="57" fill="#ffffff"/>
<rect x="0" y="41" width="46" height="25" fill="url(#gb)"/>
<rect x="161" y="41" width="52" height="25" fill="url(#gb)"/>
<rect x="0" y="65" width="103" height="33" fill="url(#gp)"/>
<rect x="105" y="65" width="108" height="33" fill="url(#gp)"/>
<rect x="0" y="65" width="42" height="1" fill="#7a7af2"/>
<rect x="165" y="65" width="44" height="1" fill="#7a7af2"/>
<rect x="48.5" y="41.5" width="110" height="21" fill="#ffffff" stroke="#b4b4b4"/>
<rect x="50" y="43" width="18" height="18" fill="url(#gs)"/>
<rect x="138" y="43" width="20" height="18" fill="url(#gs)"/>
<rect x="69" y="42" width="1" height="20" fill="#b4b4b4"/>
<rect x="137" y="42" width="1" height="20" fill="#b4b4b4"/>
</g>
<polygon points="55.5,50 61.5,50 58.5,53.5" fill="#4a62c0"/>
<polygon points="144.5,53 150.5,53 147.5,49.5" fill="#4a62c0"/>
<text x="6.3" y="56.5" font-family="'Liberation Sans', sans-serif" font-size="11.8" fill="#fff" textLength="25.5" lengthAdjust="spacingAndGlyphs">SELL</text>
<text x="174.5" y="56.5" font-family="'Liberation Sans', sans-serif" font-size="11.8" fill="#fff" textLength="23.5" lengthAdjust="spacingAndGlyphs">BUY</text>
<text x="133.5" y="55.8" font-family="'Liberation Sans', sans-serif" font-size="12.5" fill="#000" text-anchor="end" textLength="23" lengthAdjust="spacingAndGlyphs">1.00</text>
<text x="17.3" y="92.6" font-family="'Liberation Sans', sans-serif" font-size="11" font-weight="bold" fill="#fff" textLength="20.5" lengthAdjust="spacingAndGlyphs">151</text>
<text x="42" y="93.2" font-family="'Liberation Sans', sans-serif" font-size="33.5" fill="#fff" stroke="url(#gp2)" stroke-width="0.7" textLength="34.5" lengthAdjust="spacingAndGlyphs">34</text>
<text x="80.6" y="77" font-family="'Liberation Sans', sans-serif" font-size="12.5" fill="#fff">7</text>
<text x="127.5" y="92.6" font-family="'Liberation Sans', sans-serif" font-size="11" font-weight="bold" fill="#fff" textLength="20.5" lengthAdjust="spacingAndGlyphs">151</text>
<text x="152.8" y="93.2" font-family="'Liberation Sans', sans-serif" font-size="33.5" fill="#fff" stroke="url(#gp2)" stroke-width="0.7" textLength="35" lengthAdjust="spacingAndGlyphs">38</text>
<text x="191.5" y="77" font-family="'Liberation Sans', sans-serif" font-size="12.5" fill="#fff">7</text>

</svg>
</body></html>
